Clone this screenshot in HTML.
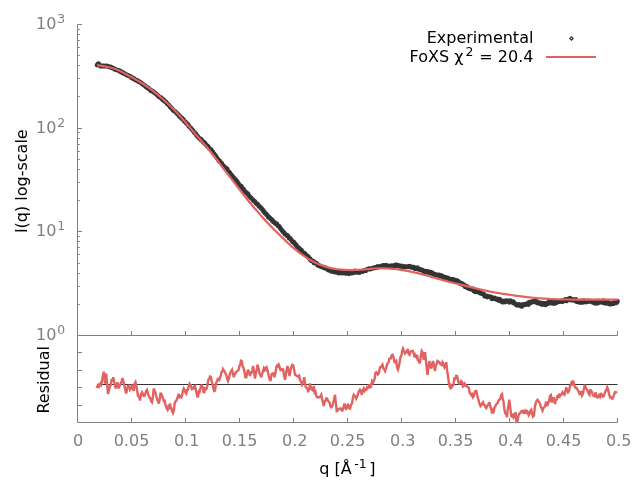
<!DOCTYPE html>
<html lang="en"><head><meta charset="utf-8"><title>FoXS fit</title>
<style>html,body{margin:0;padding:0;background:#fff}body{width:640px;height:480px;overflow:hidden}svg{display:block;will-change:transform}text{font-family:"DejaVu Sans","Liberation Sans",sans-serif}</style>
</head><body>
<svg width="640" height="480" viewBox="0 0 640 480">
<rect width="640" height="480" fill="#fff"/>
<path d="M77.5 24.5V335.5H617.5M77.5 335.5V422.5H617.5M131.5 335.5v-4.5M131.5 422.5v-4.5M185.5 335.5v-4.5M185.5 422.5v-4.5M239.5 335.5v-4.5M239.5 422.5v-4.5M293.5 335.5v-4.5M293.5 422.5v-4.5M347.5 335.5v-4.5M347.5 422.5v-4.5M401.5 335.5v-4.5M401.5 422.5v-4.5M455.5 335.5v-4.5M455.5 422.5v-4.5M509.5 335.5v-4.5M509.5 422.5v-4.5M563.5 335.5v-4.5M563.5 422.5v-4.5M617.5 335.5v-4.5M617.5 422.5v-4.5M77.5 304.5h2.25M77.5 286.5h2.25M77.5 273.5h2.25M77.5 263.5h2.25M77.5 254.5h2.25M77.5 247.5h2.25M77.5 241.5h2.25M77.5 236.5h2.25M77.5 231.5h4.5M77.5 200.5h2.25M77.5 182.5h2.25M77.5 169.5h2.25M77.5 159.5h2.25M77.5 151.5h2.25M77.5 144.5h2.25M77.5 138.5h2.25M77.5 132.5h2.25M77.5 128.5h4.5M77.5 96.5h2.25M77.5 78.5h2.25M77.5 65.5h2.25M77.5 55.5h2.25M77.5 47.5h2.25M77.5 40.5h2.25M77.5 34.5h2.25M77.5 29.5h2.25M77.5 24.5h4.5M77.5 352.5h4.5M77.5 370.5h4.5M77.5 387.5h4.5M77.5 405.5h4.5" fill="none" stroke="#808080" stroke-width="1"/>
<path d="M95.25 65.07a1.75 1.75 0 1 0 3.5 0a1.75 1.75 0 1 0 -3.5 0M95.77 64.77a1.75 1.75 0 1 0 3.5 0a1.75 1.75 0 1 0 -3.5 0M96.29 63.94a1.75 1.75 0 1 0 3.5 0a1.75 1.75 0 1 0 -3.5 0M96.81 63.49a1.75 1.75 0 1 0 3.5 0a1.75 1.75 0 1 0 -3.5 0M97.33 64.49a1.75 1.75 0 1 0 3.5 0a1.75 1.75 0 1 0 -3.5 0M97.86 65.23a1.75 1.75 0 1 0 3.5 0a1.75 1.75 0 1 0 -3.5 0M98.38 65.94a1.75 1.75 0 1 0 3.5 0a1.75 1.75 0 1 0 -3.5 0M98.9 66.3a1.75 1.75 0 1 0 3.5 0a1.75 1.75 0 1 0 -3.5 0M99.42 65.86a1.75 1.75 0 1 0 3.5 0a1.75 1.75 0 1 0 -3.5 0M99.94 65.83a1.75 1.75 0 1 0 3.5 0a1.75 1.75 0 1 0 -3.5 0M100.46 66.12a1.75 1.75 0 1 0 3.5 0a1.75 1.75 0 1 0 -3.5 0M100.98 66.1a1.75 1.75 0 1 0 3.5 0a1.75 1.75 0 1 0 -3.5 0M101.5 66.05a1.75 1.75 0 1 0 3.5 0a1.75 1.75 0 1 0 -3.5 0M102.02 65.82a1.75 1.75 0 1 0 3.5 0a1.75 1.75 0 1 0 -3.5 0M102.54 66.09a1.75 1.75 0 1 0 3.5 0a1.75 1.75 0 1 0 -3.5 0M103.07 66.33a1.75 1.75 0 1 0 3.5 0a1.75 1.75 0 1 0 -3.5 0M103.59 65.87a1.75 1.75 0 1 0 3.5 0a1.75 1.75 0 1 0 -3.5 0M104.11 66.17a1.75 1.75 0 1 0 3.5 0a1.75 1.75 0 1 0 -3.5 0M104.63 65.88a1.75 1.75 0 1 0 3.5 0a1.75 1.75 0 1 0 -3.5 0M105.15 66.12a1.75 1.75 0 1 0 3.5 0a1.75 1.75 0 1 0 -3.5 0M105.67 66.07a1.75 1.75 0 1 0 3.5 0a1.75 1.75 0 1 0 -3.5 0M106.19 66.58a1.75 1.75 0 1 0 3.5 0a1.75 1.75 0 1 0 -3.5 0M106.71 66.43a1.75 1.75 0 1 0 3.5 0a1.75 1.75 0 1 0 -3.5 0M107.23 66.96a1.75 1.75 0 1 0 3.5 0a1.75 1.75 0 1 0 -3.5 0M107.75 67.08a1.75 1.75 0 1 0 3.5 0a1.75 1.75 0 1 0 -3.5 0M108.28 67.17a1.75 1.75 0 1 0 3.5 0a1.75 1.75 0 1 0 -3.5 0M108.8 66.76a1.75 1.75 0 1 0 3.5 0a1.75 1.75 0 1 0 -3.5 0M109.32 67.48a1.75 1.75 0 1 0 3.5 0a1.75 1.75 0 1 0 -3.5 0M109.84 67.81a1.75 1.75 0 1 0 3.5 0a1.75 1.75 0 1 0 -3.5 0M110.36 68.07a1.75 1.75 0 1 0 3.5 0a1.75 1.75 0 1 0 -3.5 0M110.88 67.87a1.75 1.75 0 1 0 3.5 0a1.75 1.75 0 1 0 -3.5 0M111.4 68.36a1.75 1.75 0 1 0 3.5 0a1.75 1.75 0 1 0 -3.5 0M111.92 68.45a1.75 1.75 0 1 0 3.5 0a1.75 1.75 0 1 0 -3.5 0M112.44 68.7a1.75 1.75 0 1 0 3.5 0a1.75 1.75 0 1 0 -3.5 0M112.96 69.39a1.75 1.75 0 1 0 3.5 0a1.75 1.75 0 1 0 -3.5 0M113.49 69.11a1.75 1.75 0 1 0 3.5 0a1.75 1.75 0 1 0 -3.5 0M114.01 69.52a1.75 1.75 0 1 0 3.5 0a1.75 1.75 0 1 0 -3.5 0M114.53 69.95a1.75 1.75 0 1 0 3.5 0a1.75 1.75 0 1 0 -3.5 0M115.05 69.77a1.75 1.75 0 1 0 3.5 0a1.75 1.75 0 1 0 -3.5 0M115.57 70.09a1.75 1.75 0 1 0 3.5 0a1.75 1.75 0 1 0 -3.5 0M116.09 70.36a1.75 1.75 0 1 0 3.5 0a1.75 1.75 0 1 0 -3.5 0M116.61 70.55a1.75 1.75 0 1 0 3.5 0a1.75 1.75 0 1 0 -3.5 0M117.13 70.42a1.75 1.75 0 1 0 3.5 0a1.75 1.75 0 1 0 -3.5 0M117.65 70.98a1.75 1.75 0 1 0 3.5 0a1.75 1.75 0 1 0 -3.5 0M118.17 71.54a1.75 1.75 0 1 0 3.5 0a1.75 1.75 0 1 0 -3.5 0M118.7 71.02a1.75 1.75 0 1 0 3.5 0a1.75 1.75 0 1 0 -3.5 0M119.22 71.91a1.75 1.75 0 1 0 3.5 0a1.75 1.75 0 1 0 -3.5 0M119.74 71.98a1.75 1.75 0 1 0 3.5 0a1.75 1.75 0 1 0 -3.5 0M120.26 72.07a1.75 1.75 0 1 0 3.5 0a1.75 1.75 0 1 0 -3.5 0M120.78 73.05a1.75 1.75 0 1 0 3.5 0a1.75 1.75 0 1 0 -3.5 0M121.3 73.02a1.75 1.75 0 1 0 3.5 0a1.75 1.75 0 1 0 -3.5 0M121.82 72.8a1.75 1.75 0 1 0 3.5 0a1.75 1.75 0 1 0 -3.5 0M122.34 73.42a1.75 1.75 0 1 0 3.5 0a1.75 1.75 0 1 0 -3.5 0M122.86 73.84a1.75 1.75 0 1 0 3.5 0a1.75 1.75 0 1 0 -3.5 0M123.39 73.91a1.75 1.75 0 1 0 3.5 0a1.75 1.75 0 1 0 -3.5 0M123.91 74.41a1.75 1.75 0 1 0 3.5 0a1.75 1.75 0 1 0 -3.5 0M124.43 74.47a1.75 1.75 0 1 0 3.5 0a1.75 1.75 0 1 0 -3.5 0M124.95 74.93a1.75 1.75 0 1 0 3.5 0a1.75 1.75 0 1 0 -3.5 0M125.47 75.39a1.75 1.75 0 1 0 3.5 0a1.75 1.75 0 1 0 -3.5 0M125.99 75.08a1.75 1.75 0 1 0 3.5 0a1.75 1.75 0 1 0 -3.5 0M126.51 75.56a1.75 1.75 0 1 0 3.5 0a1.75 1.75 0 1 0 -3.5 0M127.03 75.64a1.75 1.75 0 1 0 3.5 0a1.75 1.75 0 1 0 -3.5 0M127.55 76.07a1.75 1.75 0 1 0 3.5 0a1.75 1.75 0 1 0 -3.5 0M128.07 76.01a1.75 1.75 0 1 0 3.5 0a1.75 1.75 0 1 0 -3.5 0M128.6 76.48a1.75 1.75 0 1 0 3.5 0a1.75 1.75 0 1 0 -3.5 0M129.12 76.93a1.75 1.75 0 1 0 3.5 0a1.75 1.75 0 1 0 -3.5 0M129.64 77.58a1.75 1.75 0 1 0 3.5 0a1.75 1.75 0 1 0 -3.5 0M130.16 78.02a1.75 1.75 0 1 0 3.5 0a1.75 1.75 0 1 0 -3.5 0M130.68 77.72a1.75 1.75 0 1 0 3.5 0a1.75 1.75 0 1 0 -3.5 0M131.2 78.22a1.75 1.75 0 1 0 3.5 0a1.75 1.75 0 1 0 -3.5 0M131.72 78.93a1.75 1.75 0 1 0 3.5 0a1.75 1.75 0 1 0 -3.5 0M132.24 78.52a1.75 1.75 0 1 0 3.5 0a1.75 1.75 0 1 0 -3.5 0M132.76 79.2a1.75 1.75 0 1 0 3.5 0a1.75 1.75 0 1 0 -3.5 0M133.28 79.55a1.75 1.75 0 1 0 3.5 0a1.75 1.75 0 1 0 -3.5 0M133.81 80.15a1.75 1.75 0 1 0 3.5 0a1.75 1.75 0 1 0 -3.5 0M134.33 80.23a1.75 1.75 0 1 0 3.5 0a1.75 1.75 0 1 0 -3.5 0M134.85 80.2a1.75 1.75 0 1 0 3.5 0a1.75 1.75 0 1 0 -3.5 0M135.37 80.44a1.75 1.75 0 1 0 3.5 0a1.75 1.75 0 1 0 -3.5 0M135.89 80.76a1.75 1.75 0 1 0 3.5 0a1.75 1.75 0 1 0 -3.5 0M136.41 81.54a1.75 1.75 0 1 0 3.5 0a1.75 1.75 0 1 0 -3.5 0M136.93 81.33a1.75 1.75 0 1 0 3.5 0a1.75 1.75 0 1 0 -3.5 0M137.45 81.71a1.75 1.75 0 1 0 3.5 0a1.75 1.75 0 1 0 -3.5 0M137.97 82.24a1.75 1.75 0 1 0 3.5 0a1.75 1.75 0 1 0 -3.5 0M138.49 82.46a1.75 1.75 0 1 0 3.5 0a1.75 1.75 0 1 0 -3.5 0M139.02 82.8a1.75 1.75 0 1 0 3.5 0a1.75 1.75 0 1 0 -3.5 0M139.54 82.9a1.75 1.75 0 1 0 3.5 0a1.75 1.75 0 1 0 -3.5 0M140.06 83.55a1.75 1.75 0 1 0 3.5 0a1.75 1.75 0 1 0 -3.5 0M140.58 83.78a1.75 1.75 0 1 0 3.5 0a1.75 1.75 0 1 0 -3.5 0M141.1 84.57a1.75 1.75 0 1 0 3.5 0a1.75 1.75 0 1 0 -3.5 0M141.62 84.8a1.75 1.75 0 1 0 3.5 0a1.75 1.75 0 1 0 -3.5 0M142.14 84.99a1.75 1.75 0 1 0 3.5 0a1.75 1.75 0 1 0 -3.5 0M142.66 85.58a1.75 1.75 0 1 0 3.5 0a1.75 1.75 0 1 0 -3.5 0M143.18 85.72a1.75 1.75 0 1 0 3.5 0a1.75 1.75 0 1 0 -3.5 0M143.7 86.53a1.75 1.75 0 1 0 3.5 0a1.75 1.75 0 1 0 -3.5 0M144.23 86.69a1.75 1.75 0 1 0 3.5 0a1.75 1.75 0 1 0 -3.5 0M144.75 87.29a1.75 1.75 0 1 0 3.5 0a1.75 1.75 0 1 0 -3.5 0M145.27 87.22a1.75 1.75 0 1 0 3.5 0a1.75 1.75 0 1 0 -3.5 0M145.79 88.1a1.75 1.75 0 1 0 3.5 0a1.75 1.75 0 1 0 -3.5 0M146.31 87.95a1.75 1.75 0 1 0 3.5 0a1.75 1.75 0 1 0 -3.5 0M146.83 88.25a1.75 1.75 0 1 0 3.5 0a1.75 1.75 0 1 0 -3.5 0M147.35 89.09a1.75 1.75 0 1 0 3.5 0a1.75 1.75 0 1 0 -3.5 0M147.87 89.27a1.75 1.75 0 1 0 3.5 0a1.75 1.75 0 1 0 -3.5 0M148.39 89.89a1.75 1.75 0 1 0 3.5 0a1.75 1.75 0 1 0 -3.5 0M148.92 90.78a1.75 1.75 0 1 0 3.5 0a1.75 1.75 0 1 0 -3.5 0M149.44 90.24a1.75 1.75 0 1 0 3.5 0a1.75 1.75 0 1 0 -3.5 0M149.96 90.6a1.75 1.75 0 1 0 3.5 0a1.75 1.75 0 1 0 -3.5 0M150.48 91.15a1.75 1.75 0 1 0 3.5 0a1.75 1.75 0 1 0 -3.5 0M151 91.56a1.75 1.75 0 1 0 3.5 0a1.75 1.75 0 1 0 -3.5 0M151.52 91.72a1.75 1.75 0 1 0 3.5 0a1.75 1.75 0 1 0 -3.5 0M152.04 92.09a1.75 1.75 0 1 0 3.5 0a1.75 1.75 0 1 0 -3.5 0M152.56 92.74a1.75 1.75 0 1 0 3.5 0a1.75 1.75 0 1 0 -3.5 0M153.08 93.11a1.75 1.75 0 1 0 3.5 0a1.75 1.75 0 1 0 -3.5 0M153.6 93.11a1.75 1.75 0 1 0 3.5 0a1.75 1.75 0 1 0 -3.5 0M154.13 93.84a1.75 1.75 0 1 0 3.5 0a1.75 1.75 0 1 0 -3.5 0M154.65 94.33a1.75 1.75 0 1 0 3.5 0a1.75 1.75 0 1 0 -3.5 0M155.17 94.5a1.75 1.75 0 1 0 3.5 0a1.75 1.75 0 1 0 -3.5 0M155.69 95.33a1.75 1.75 0 1 0 3.5 0a1.75 1.75 0 1 0 -3.5 0M156.21 95.48a1.75 1.75 0 1 0 3.5 0a1.75 1.75 0 1 0 -3.5 0M156.73 96.44a1.75 1.75 0 1 0 3.5 0a1.75 1.75 0 1 0 -3.5 0M157.25 96.65a1.75 1.75 0 1 0 3.5 0a1.75 1.75 0 1 0 -3.5 0M157.77 97.05a1.75 1.75 0 1 0 3.5 0a1.75 1.75 0 1 0 -3.5 0M158.29 97.28a1.75 1.75 0 1 0 3.5 0a1.75 1.75 0 1 0 -3.5 0M158.81 97.82a1.75 1.75 0 1 0 3.5 0a1.75 1.75 0 1 0 -3.5 0M159.34 97.7a1.75 1.75 0 1 0 3.5 0a1.75 1.75 0 1 0 -3.5 0M159.86 98.36a1.75 1.75 0 1 0 3.5 0a1.75 1.75 0 1 0 -3.5 0M160.38 99.18a1.75 1.75 0 1 0 3.5 0a1.75 1.75 0 1 0 -3.5 0M160.9 98.89a1.75 1.75 0 1 0 3.5 0a1.75 1.75 0 1 0 -3.5 0M161.42 100.14a1.75 1.75 0 1 0 3.5 0a1.75 1.75 0 1 0 -3.5 0M161.94 99.81a1.75 1.75 0 1 0 3.5 0a1.75 1.75 0 1 0 -3.5 0M162.46 100.93a1.75 1.75 0 1 0 3.5 0a1.75 1.75 0 1 0 -3.5 0M162.98 100.9a1.75 1.75 0 1 0 3.5 0a1.75 1.75 0 1 0 -3.5 0M163.5 101.8a1.75 1.75 0 1 0 3.5 0a1.75 1.75 0 1 0 -3.5 0M164.02 102.06a1.75 1.75 0 1 0 3.5 0a1.75 1.75 0 1 0 -3.5 0M164.55 102.07a1.75 1.75 0 1 0 3.5 0a1.75 1.75 0 1 0 -3.5 0M165.07 103.36a1.75 1.75 0 1 0 3.5 0a1.75 1.75 0 1 0 -3.5 0M165.59 103.95a1.75 1.75 0 1 0 3.5 0a1.75 1.75 0 1 0 -3.5 0M166.11 104.09a1.75 1.75 0 1 0 3.5 0a1.75 1.75 0 1 0 -3.5 0M166.63 104.62a1.75 1.75 0 1 0 3.5 0a1.75 1.75 0 1 0 -3.5 0M167.15 105.26a1.75 1.75 0 1 0 3.5 0a1.75 1.75 0 1 0 -3.5 0M167.67 105.64a1.75 1.75 0 1 0 3.5 0a1.75 1.75 0 1 0 -3.5 0M168.19 106.86a1.75 1.75 0 1 0 3.5 0a1.75 1.75 0 1 0 -3.5 0M168.71 107.01a1.75 1.75 0 1 0 3.5 0a1.75 1.75 0 1 0 -3.5 0M169.23 107.75a1.75 1.75 0 1 0 3.5 0a1.75 1.75 0 1 0 -3.5 0M169.76 108.12a1.75 1.75 0 1 0 3.5 0a1.75 1.75 0 1 0 -3.5 0M170.28 108.73a1.75 1.75 0 1 0 3.5 0a1.75 1.75 0 1 0 -3.5 0M170.8 109.06a1.75 1.75 0 1 0 3.5 0a1.75 1.75 0 1 0 -3.5 0M171.32 110.28a1.75 1.75 0 1 0 3.5 0a1.75 1.75 0 1 0 -3.5 0M171.84 110.33a1.75 1.75 0 1 0 3.5 0a1.75 1.75 0 1 0 -3.5 0M172.36 111.1a1.75 1.75 0 1 0 3.5 0a1.75 1.75 0 1 0 -3.5 0M172.88 111.27a1.75 1.75 0 1 0 3.5 0a1.75 1.75 0 1 0 -3.5 0M173.4 111.52a1.75 1.75 0 1 0 3.5 0a1.75 1.75 0 1 0 -3.5 0M173.92 112.09a1.75 1.75 0 1 0 3.5 0a1.75 1.75 0 1 0 -3.5 0M174.45 112.52a1.75 1.75 0 1 0 3.5 0a1.75 1.75 0 1 0 -3.5 0M174.97 113.21a1.75 1.75 0 1 0 3.5 0a1.75 1.75 0 1 0 -3.5 0M175.49 113.64a1.75 1.75 0 1 0 3.5 0a1.75 1.75 0 1 0 -3.5 0M176.01 114.22a1.75 1.75 0 1 0 3.5 0a1.75 1.75 0 1 0 -3.5 0M176.53 114.46a1.75 1.75 0 1 0 3.5 0a1.75 1.75 0 1 0 -3.5 0M177.05 115.18a1.75 1.75 0 1 0 3.5 0a1.75 1.75 0 1 0 -3.5 0M177.57 116.43a1.75 1.75 0 1 0 3.5 0a1.75 1.75 0 1 0 -3.5 0M178.09 116.28a1.75 1.75 0 1 0 3.5 0a1.75 1.75 0 1 0 -3.5 0M178.61 116.68a1.75 1.75 0 1 0 3.5 0a1.75 1.75 0 1 0 -3.5 0M179.13 117.59a1.75 1.75 0 1 0 3.5 0a1.75 1.75 0 1 0 -3.5 0M179.66 118.41a1.75 1.75 0 1 0 3.5 0a1.75 1.75 0 1 0 -3.5 0M180.18 118.09a1.75 1.75 0 1 0 3.5 0a1.75 1.75 0 1 0 -3.5 0M180.7 118.98a1.75 1.75 0 1 0 3.5 0a1.75 1.75 0 1 0 -3.5 0M181.22 119.39a1.75 1.75 0 1 0 3.5 0a1.75 1.75 0 1 0 -3.5 0M181.74 119.62a1.75 1.75 0 1 0 3.5 0a1.75 1.75 0 1 0 -3.5 0M182.26 120.92a1.75 1.75 0 1 0 3.5 0a1.75 1.75 0 1 0 -3.5 0M182.78 121.27a1.75 1.75 0 1 0 3.5 0a1.75 1.75 0 1 0 -3.5 0M183.3 121.86a1.75 1.75 0 1 0 3.5 0a1.75 1.75 0 1 0 -3.5 0M183.82 122.19a1.75 1.75 0 1 0 3.5 0a1.75 1.75 0 1 0 -3.5 0M184.34 123.11a1.75 1.75 0 1 0 3.5 0a1.75 1.75 0 1 0 -3.5 0M184.87 123.37a1.75 1.75 0 1 0 3.5 0a1.75 1.75 0 1 0 -3.5 0M185.39 124.05a1.75 1.75 0 1 0 3.5 0a1.75 1.75 0 1 0 -3.5 0M185.91 124.33a1.75 1.75 0 1 0 3.5 0a1.75 1.75 0 1 0 -3.5 0M186.43 124.86a1.75 1.75 0 1 0 3.5 0a1.75 1.75 0 1 0 -3.5 0M186.95 126.19a1.75 1.75 0 1 0 3.5 0a1.75 1.75 0 1 0 -3.5 0M187.47 126.23a1.75 1.75 0 1 0 3.5 0a1.75 1.75 0 1 0 -3.5 0M187.99 127.05a1.75 1.75 0 1 0 3.5 0a1.75 1.75 0 1 0 -3.5 0M188.51 127.54a1.75 1.75 0 1 0 3.5 0a1.75 1.75 0 1 0 -3.5 0M189.03 128a1.75 1.75 0 1 0 3.5 0a1.75 1.75 0 1 0 -3.5 0M189.55 128.57a1.75 1.75 0 1 0 3.5 0a1.75 1.75 0 1 0 -3.5 0M190.08 129.49a1.75 1.75 0 1 0 3.5 0a1.75 1.75 0 1 0 -3.5 0M190.6 129.8a1.75 1.75 0 1 0 3.5 0a1.75 1.75 0 1 0 -3.5 0M191.12 130.44a1.75 1.75 0 1 0 3.5 0a1.75 1.75 0 1 0 -3.5 0M191.64 131.1a1.75 1.75 0 1 0 3.5 0a1.75 1.75 0 1 0 -3.5 0M192.16 132.06a1.75 1.75 0 1 0 3.5 0a1.75 1.75 0 1 0 -3.5 0M192.68 132.56a1.75 1.75 0 1 0 3.5 0a1.75 1.75 0 1 0 -3.5 0M193.2 133.14a1.75 1.75 0 1 0 3.5 0a1.75 1.75 0 1 0 -3.5 0M193.72 133.53a1.75 1.75 0 1 0 3.5 0a1.75 1.75 0 1 0 -3.5 0M194.24 133.95a1.75 1.75 0 1 0 3.5 0a1.75 1.75 0 1 0 -3.5 0M194.77 135.31a1.75 1.75 0 1 0 3.5 0a1.75 1.75 0 1 0 -3.5 0M195.29 135.95a1.75 1.75 0 1 0 3.5 0a1.75 1.75 0 1 0 -3.5 0M195.81 136.23a1.75 1.75 0 1 0 3.5 0a1.75 1.75 0 1 0 -3.5 0M196.33 137.01a1.75 1.75 0 1 0 3.5 0a1.75 1.75 0 1 0 -3.5 0M196.85 137.61a1.75 1.75 0 1 0 3.5 0a1.75 1.75 0 1 0 -3.5 0M197.37 138.12a1.75 1.75 0 1 0 3.5 0a1.75 1.75 0 1 0 -3.5 0M197.89 138.61a1.75 1.75 0 1 0 3.5 0a1.75 1.75 0 1 0 -3.5 0M198.41 138.64a1.75 1.75 0 1 0 3.5 0a1.75 1.75 0 1 0 -3.5 0M198.93 139.66a1.75 1.75 0 1 0 3.5 0a1.75 1.75 0 1 0 -3.5 0M199.45 139.27a1.75 1.75 0 1 0 3.5 0a1.75 1.75 0 1 0 -3.5 0M199.98 140.36a1.75 1.75 0 1 0 3.5 0a1.75 1.75 0 1 0 -3.5 0M200.5 140.73a1.75 1.75 0 1 0 3.5 0a1.75 1.75 0 1 0 -3.5 0M201.02 141.36a1.75 1.75 0 1 0 3.5 0a1.75 1.75 0 1 0 -3.5 0M201.54 142.2a1.75 1.75 0 1 0 3.5 0a1.75 1.75 0 1 0 -3.5 0M202.06 142.66a1.75 1.75 0 1 0 3.5 0a1.75 1.75 0 1 0 -3.5 0M202.58 142.46a1.75 1.75 0 1 0 3.5 0a1.75 1.75 0 1 0 -3.5 0M203.1 142.9a1.75 1.75 0 1 0 3.5 0a1.75 1.75 0 1 0 -3.5 0M203.62 144.26a1.75 1.75 0 1 0 3.5 0a1.75 1.75 0 1 0 -3.5 0M204.14 144.31a1.75 1.75 0 1 0 3.5 0a1.75 1.75 0 1 0 -3.5 0M204.66 145.2a1.75 1.75 0 1 0 3.5 0a1.75 1.75 0 1 0 -3.5 0M205.19 146.04a1.75 1.75 0 1 0 3.5 0a1.75 1.75 0 1 0 -3.5 0M205.71 145.84a1.75 1.75 0 1 0 3.5 0a1.75 1.75 0 1 0 -3.5 0M206.23 146.25a1.75 1.75 0 1 0 3.5 0a1.75 1.75 0 1 0 -3.5 0M206.75 147.51a1.75 1.75 0 1 0 3.5 0a1.75 1.75 0 1 0 -3.5 0M207.27 147.97a1.75 1.75 0 1 0 3.5 0a1.75 1.75 0 1 0 -3.5 0M207.79 148.41a1.75 1.75 0 1 0 3.5 0a1.75 1.75 0 1 0 -3.5 0M208.31 149.04a1.75 1.75 0 1 0 3.5 0a1.75 1.75 0 1 0 -3.5 0M208.83 149.32a1.75 1.75 0 1 0 3.5 0a1.75 1.75 0 1 0 -3.5 0M209.35 149.71a1.75 1.75 0 1 0 3.5 0a1.75 1.75 0 1 0 -3.5 0M209.87 150.74a1.75 1.75 0 1 0 3.5 0a1.75 1.75 0 1 0 -3.5 0M210.4 151.14a1.75 1.75 0 1 0 3.5 0a1.75 1.75 0 1 0 -3.5 0M210.92 151.61a1.75 1.75 0 1 0 3.5 0a1.75 1.75 0 1 0 -3.5 0M211.44 152.96a1.75 1.75 0 1 0 3.5 0a1.75 1.75 0 1 0 -3.5 0M211.96 153.49a1.75 1.75 0 1 0 3.5 0a1.75 1.75 0 1 0 -3.5 0M212.48 154.34a1.75 1.75 0 1 0 3.5 0a1.75 1.75 0 1 0 -3.5 0M213 154.64a1.75 1.75 0 1 0 3.5 0a1.75 1.75 0 1 0 -3.5 0M213.52 155.46a1.75 1.75 0 1 0 3.5 0a1.75 1.75 0 1 0 -3.5 0M214.04 156.09a1.75 1.75 0 1 0 3.5 0a1.75 1.75 0 1 0 -3.5 0M214.56 156.85a1.75 1.75 0 1 0 3.5 0a1.75 1.75 0 1 0 -3.5 0M215.08 157.9a1.75 1.75 0 1 0 3.5 0a1.75 1.75 0 1 0 -3.5 0M215.61 158.3a1.75 1.75 0 1 0 3.5 0a1.75 1.75 0 1 0 -3.5 0M216.13 159.32a1.75 1.75 0 1 0 3.5 0a1.75 1.75 0 1 0 -3.5 0M216.65 159.96a1.75 1.75 0 1 0 3.5 0a1.75 1.75 0 1 0 -3.5 0M217.17 161.1a1.75 1.75 0 1 0 3.5 0a1.75 1.75 0 1 0 -3.5 0M217.69 160.64a1.75 1.75 0 1 0 3.5 0a1.75 1.75 0 1 0 -3.5 0M218.21 161.94a1.75 1.75 0 1 0 3.5 0a1.75 1.75 0 1 0 -3.5 0M218.73 162.23a1.75 1.75 0 1 0 3.5 0a1.75 1.75 0 1 0 -3.5 0M219.25 162.87a1.75 1.75 0 1 0 3.5 0a1.75 1.75 0 1 0 -3.5 0M219.77 163.05a1.75 1.75 0 1 0 3.5 0a1.75 1.75 0 1 0 -3.5 0M220.3 163.99a1.75 1.75 0 1 0 3.5 0a1.75 1.75 0 1 0 -3.5 0M220.82 165.02a1.75 1.75 0 1 0 3.5 0a1.75 1.75 0 1 0 -3.5 0M221.34 165.41a1.75 1.75 0 1 0 3.5 0a1.75 1.75 0 1 0 -3.5 0M221.86 166.1a1.75 1.75 0 1 0 3.5 0a1.75 1.75 0 1 0 -3.5 0M222.38 166.6a1.75 1.75 0 1 0 3.5 0a1.75 1.75 0 1 0 -3.5 0M222.9 167.64a1.75 1.75 0 1 0 3.5 0a1.75 1.75 0 1 0 -3.5 0M223.42 167.84a1.75 1.75 0 1 0 3.5 0a1.75 1.75 0 1 0 -3.5 0M223.94 167.71a1.75 1.75 0 1 0 3.5 0a1.75 1.75 0 1 0 -3.5 0M224.46 168.72a1.75 1.75 0 1 0 3.5 0a1.75 1.75 0 1 0 -3.5 0M224.98 168.87a1.75 1.75 0 1 0 3.5 0a1.75 1.75 0 1 0 -3.5 0M225.51 169.02a1.75 1.75 0 1 0 3.5 0a1.75 1.75 0 1 0 -3.5 0M226.03 170.46a1.75 1.75 0 1 0 3.5 0a1.75 1.75 0 1 0 -3.5 0M226.55 171.65a1.75 1.75 0 1 0 3.5 0a1.75 1.75 0 1 0 -3.5 0M227.07 171.87a1.75 1.75 0 1 0 3.5 0a1.75 1.75 0 1 0 -3.5 0M227.59 172.12a1.75 1.75 0 1 0 3.5 0a1.75 1.75 0 1 0 -3.5 0M228.11 172.83a1.75 1.75 0 1 0 3.5 0a1.75 1.75 0 1 0 -3.5 0M228.63 174.11a1.75 1.75 0 1 0 3.5 0a1.75 1.75 0 1 0 -3.5 0M229.15 174.42a1.75 1.75 0 1 0 3.5 0a1.75 1.75 0 1 0 -3.5 0M229.67 175a1.75 1.75 0 1 0 3.5 0a1.75 1.75 0 1 0 -3.5 0M230.19 175.57a1.75 1.75 0 1 0 3.5 0a1.75 1.75 0 1 0 -3.5 0M230.72 176.2a1.75 1.75 0 1 0 3.5 0a1.75 1.75 0 1 0 -3.5 0M231.24 177.05a1.75 1.75 0 1 0 3.5 0a1.75 1.75 0 1 0 -3.5 0M231.76 177.58a1.75 1.75 0 1 0 3.5 0a1.75 1.75 0 1 0 -3.5 0M232.28 178.1a1.75 1.75 0 1 0 3.5 0a1.75 1.75 0 1 0 -3.5 0M232.8 178.33a1.75 1.75 0 1 0 3.5 0a1.75 1.75 0 1 0 -3.5 0M233.32 179.48a1.75 1.75 0 1 0 3.5 0a1.75 1.75 0 1 0 -3.5 0M233.84 179.76a1.75 1.75 0 1 0 3.5 0a1.75 1.75 0 1 0 -3.5 0M234.36 181a1.75 1.75 0 1 0 3.5 0a1.75 1.75 0 1 0 -3.5 0M234.88 180.93a1.75 1.75 0 1 0 3.5 0a1.75 1.75 0 1 0 -3.5 0M235.4 181.97a1.75 1.75 0 1 0 3.5 0a1.75 1.75 0 1 0 -3.5 0M235.93 182.69a1.75 1.75 0 1 0 3.5 0a1.75 1.75 0 1 0 -3.5 0M236.45 182.93a1.75 1.75 0 1 0 3.5 0a1.75 1.75 0 1 0 -3.5 0M236.97 184.55a1.75 1.75 0 1 0 3.5 0a1.75 1.75 0 1 0 -3.5 0M237.49 185.1a1.75 1.75 0 1 0 3.5 0a1.75 1.75 0 1 0 -3.5 0M238.01 185.11a1.75 1.75 0 1 0 3.5 0a1.75 1.75 0 1 0 -3.5 0M238.53 186.11a1.75 1.75 0 1 0 3.5 0a1.75 1.75 0 1 0 -3.5 0M239.05 186.58a1.75 1.75 0 1 0 3.5 0a1.75 1.75 0 1 0 -3.5 0M239.57 186.21a1.75 1.75 0 1 0 3.5 0a1.75 1.75 0 1 0 -3.5 0M240.09 187.71a1.75 1.75 0 1 0 3.5 0a1.75 1.75 0 1 0 -3.5 0M240.61 188.21a1.75 1.75 0 1 0 3.5 0a1.75 1.75 0 1 0 -3.5 0M241.14 188.85a1.75 1.75 0 1 0 3.5 0a1.75 1.75 0 1 0 -3.5 0M241.66 189.07a1.75 1.75 0 1 0 3.5 0a1.75 1.75 0 1 0 -3.5 0M242.18 189.93a1.75 1.75 0 1 0 3.5 0a1.75 1.75 0 1 0 -3.5 0M242.7 190.55a1.75 1.75 0 1 0 3.5 0a1.75 1.75 0 1 0 -3.5 0M243.22 191.57a1.75 1.75 0 1 0 3.5 0a1.75 1.75 0 1 0 -3.5 0M243.74 191.85a1.75 1.75 0 1 0 3.5 0a1.75 1.75 0 1 0 -3.5 0M244.26 192.27a1.75 1.75 0 1 0 3.5 0a1.75 1.75 0 1 0 -3.5 0M244.78 193.29a1.75 1.75 0 1 0 3.5 0a1.75 1.75 0 1 0 -3.5 0M245.3 193.14a1.75 1.75 0 1 0 3.5 0a1.75 1.75 0 1 0 -3.5 0M245.83 193.72a1.75 1.75 0 1 0 3.5 0a1.75 1.75 0 1 0 -3.5 0M246.35 193.82a1.75 1.75 0 1 0 3.5 0a1.75 1.75 0 1 0 -3.5 0M246.87 195.5a1.75 1.75 0 1 0 3.5 0a1.75 1.75 0 1 0 -3.5 0M247.39 195.92a1.75 1.75 0 1 0 3.5 0a1.75 1.75 0 1 0 -3.5 0M247.91 196.53a1.75 1.75 0 1 0 3.5 0a1.75 1.75 0 1 0 -3.5 0M248.43 197.08a1.75 1.75 0 1 0 3.5 0a1.75 1.75 0 1 0 -3.5 0M248.95 197.52a1.75 1.75 0 1 0 3.5 0a1.75 1.75 0 1 0 -3.5 0M249.47 198.15a1.75 1.75 0 1 0 3.5 0a1.75 1.75 0 1 0 -3.5 0M249.99 198.56a1.75 1.75 0 1 0 3.5 0a1.75 1.75 0 1 0 -3.5 0M250.51 199.11a1.75 1.75 0 1 0 3.5 0a1.75 1.75 0 1 0 -3.5 0M251.04 199.71a1.75 1.75 0 1 0 3.5 0a1.75 1.75 0 1 0 -3.5 0M251.56 200.69a1.75 1.75 0 1 0 3.5 0a1.75 1.75 0 1 0 -3.5 0M252.08 200.88a1.75 1.75 0 1 0 3.5 0a1.75 1.75 0 1 0 -3.5 0M252.6 201.19a1.75 1.75 0 1 0 3.5 0a1.75 1.75 0 1 0 -3.5 0M253.12 201.53a1.75 1.75 0 1 0 3.5 0a1.75 1.75 0 1 0 -3.5 0M253.64 202.04a1.75 1.75 0 1 0 3.5 0a1.75 1.75 0 1 0 -3.5 0M254.16 203.32a1.75 1.75 0 1 0 3.5 0a1.75 1.75 0 1 0 -3.5 0M254.68 203.51a1.75 1.75 0 1 0 3.5 0a1.75 1.75 0 1 0 -3.5 0M255.2 203.92a1.75 1.75 0 1 0 3.5 0a1.75 1.75 0 1 0 -3.5 0M255.72 204.35a1.75 1.75 0 1 0 3.5 0a1.75 1.75 0 1 0 -3.5 0M256.25 204.66a1.75 1.75 0 1 0 3.5 0a1.75 1.75 0 1 0 -3.5 0M256.77 205.55a1.75 1.75 0 1 0 3.5 0a1.75 1.75 0 1 0 -3.5 0M257.29 206.41a1.75 1.75 0 1 0 3.5 0a1.75 1.75 0 1 0 -3.5 0M257.81 206.53a1.75 1.75 0 1 0 3.5 0a1.75 1.75 0 1 0 -3.5 0M258.33 207.12a1.75 1.75 0 1 0 3.5 0a1.75 1.75 0 1 0 -3.5 0M258.85 207.66a1.75 1.75 0 1 0 3.5 0a1.75 1.75 0 1 0 -3.5 0M259.37 208.32a1.75 1.75 0 1 0 3.5 0a1.75 1.75 0 1 0 -3.5 0M259.89 208.31a1.75 1.75 0 1 0 3.5 0a1.75 1.75 0 1 0 -3.5 0M260.41 209.34a1.75 1.75 0 1 0 3.5 0a1.75 1.75 0 1 0 -3.5 0M260.93 209.74a1.75 1.75 0 1 0 3.5 0a1.75 1.75 0 1 0 -3.5 0M261.46 210.94a1.75 1.75 0 1 0 3.5 0a1.75 1.75 0 1 0 -3.5 0M261.98 211.02a1.75 1.75 0 1 0 3.5 0a1.75 1.75 0 1 0 -3.5 0M262.5 212.1a1.75 1.75 0 1 0 3.5 0a1.75 1.75 0 1 0 -3.5 0M263.02 213.04a1.75 1.75 0 1 0 3.5 0a1.75 1.75 0 1 0 -3.5 0M263.54 213.06a1.75 1.75 0 1 0 3.5 0a1.75 1.75 0 1 0 -3.5 0M264.06 213.58a1.75 1.75 0 1 0 3.5 0a1.75 1.75 0 1 0 -3.5 0M264.58 214.45a1.75 1.75 0 1 0 3.5 0a1.75 1.75 0 1 0 -3.5 0M265.1 214.99a1.75 1.75 0 1 0 3.5 0a1.75 1.75 0 1 0 -3.5 0M265.62 215.25a1.75 1.75 0 1 0 3.5 0a1.75 1.75 0 1 0 -3.5 0M266.14 216.32a1.75 1.75 0 1 0 3.5 0a1.75 1.75 0 1 0 -3.5 0M266.67 217.42a1.75 1.75 0 1 0 3.5 0a1.75 1.75 0 1 0 -3.5 0M267.19 217.22a1.75 1.75 0 1 0 3.5 0a1.75 1.75 0 1 0 -3.5 0M267.71 217.77a1.75 1.75 0 1 0 3.5 0a1.75 1.75 0 1 0 -3.5 0M268.23 218a1.75 1.75 0 1 0 3.5 0a1.75 1.75 0 1 0 -3.5 0M268.75 218.95a1.75 1.75 0 1 0 3.5 0a1.75 1.75 0 1 0 -3.5 0M269.27 218.9a1.75 1.75 0 1 0 3.5 0a1.75 1.75 0 1 0 -3.5 0M269.79 219.42a1.75 1.75 0 1 0 3.5 0a1.75 1.75 0 1 0 -3.5 0M270.31 220.69a1.75 1.75 0 1 0 3.5 0a1.75 1.75 0 1 0 -3.5 0M270.83 220.42a1.75 1.75 0 1 0 3.5 0a1.75 1.75 0 1 0 -3.5 0M271.36 221.55a1.75 1.75 0 1 0 3.5 0a1.75 1.75 0 1 0 -3.5 0M271.88 222.15a1.75 1.75 0 1 0 3.5 0a1.75 1.75 0 1 0 -3.5 0M272.4 222.17a1.75 1.75 0 1 0 3.5 0a1.75 1.75 0 1 0 -3.5 0M272.92 222.7a1.75 1.75 0 1 0 3.5 0a1.75 1.75 0 1 0 -3.5 0M273.44 223.6a1.75 1.75 0 1 0 3.5 0a1.75 1.75 0 1 0 -3.5 0M273.96 223.3a1.75 1.75 0 1 0 3.5 0a1.75 1.75 0 1 0 -3.5 0M274.48 223.59a1.75 1.75 0 1 0 3.5 0a1.75 1.75 0 1 0 -3.5 0M275 223.78a1.75 1.75 0 1 0 3.5 0a1.75 1.75 0 1 0 -3.5 0M275.52 224.73a1.75 1.75 0 1 0 3.5 0a1.75 1.75 0 1 0 -3.5 0M276.04 225.73a1.75 1.75 0 1 0 3.5 0a1.75 1.75 0 1 0 -3.5 0M276.57 226.11a1.75 1.75 0 1 0 3.5 0a1.75 1.75 0 1 0 -3.5 0M277.09 226.07a1.75 1.75 0 1 0 3.5 0a1.75 1.75 0 1 0 -3.5 0M277.61 226.74a1.75 1.75 0 1 0 3.5 0a1.75 1.75 0 1 0 -3.5 0M278.13 227.53a1.75 1.75 0 1 0 3.5 0a1.75 1.75 0 1 0 -3.5 0M278.65 228.49a1.75 1.75 0 1 0 3.5 0a1.75 1.75 0 1 0 -3.5 0M279.17 229.01a1.75 1.75 0 1 0 3.5 0a1.75 1.75 0 1 0 -3.5 0M279.69 229.83a1.75 1.75 0 1 0 3.5 0a1.75 1.75 0 1 0 -3.5 0M280.21 230.52a1.75 1.75 0 1 0 3.5 0a1.75 1.75 0 1 0 -3.5 0M280.73 230.94a1.75 1.75 0 1 0 3.5 0a1.75 1.75 0 1 0 -3.5 0M281.25 231.62a1.75 1.75 0 1 0 3.5 0a1.75 1.75 0 1 0 -3.5 0M281.78 232.28a1.75 1.75 0 1 0 3.5 0a1.75 1.75 0 1 0 -3.5 0M282.3 232.72a1.75 1.75 0 1 0 3.5 0a1.75 1.75 0 1 0 -3.5 0M282.82 233.44a1.75 1.75 0 1 0 3.5 0a1.75 1.75 0 1 0 -3.5 0M283.34 234.42a1.75 1.75 0 1 0 3.5 0a1.75 1.75 0 1 0 -3.5 0M283.86 234.48a1.75 1.75 0 1 0 3.5 0a1.75 1.75 0 1 0 -3.5 0M284.38 234.81a1.75 1.75 0 1 0 3.5 0a1.75 1.75 0 1 0 -3.5 0M284.9 234.73a1.75 1.75 0 1 0 3.5 0a1.75 1.75 0 1 0 -3.5 0M285.42 235.97a1.75 1.75 0 1 0 3.5 0a1.75 1.75 0 1 0 -3.5 0M285.94 235.7a1.75 1.75 0 1 0 3.5 0a1.75 1.75 0 1 0 -3.5 0M286.46 236.44a1.75 1.75 0 1 0 3.5 0a1.75 1.75 0 1 0 -3.5 0M286.99 237.76a1.75 1.75 0 1 0 3.5 0a1.75 1.75 0 1 0 -3.5 0M287.51 238.25a1.75 1.75 0 1 0 3.5 0a1.75 1.75 0 1 0 -3.5 0M288.03 238.48a1.75 1.75 0 1 0 3.5 0a1.75 1.75 0 1 0 -3.5 0M288.55 238.45a1.75 1.75 0 1 0 3.5 0a1.75 1.75 0 1 0 -3.5 0M289.07 239.42a1.75 1.75 0 1 0 3.5 0a1.75 1.75 0 1 0 -3.5 0M289.59 239.81a1.75 1.75 0 1 0 3.5 0a1.75 1.75 0 1 0 -3.5 0M290.11 240.77a1.75 1.75 0 1 0 3.5 0a1.75 1.75 0 1 0 -3.5 0M290.63 241.86a1.75 1.75 0 1 0 3.5 0a1.75 1.75 0 1 0 -3.5 0M291.15 241.7a1.75 1.75 0 1 0 3.5 0a1.75 1.75 0 1 0 -3.5 0M291.67 241.92a1.75 1.75 0 1 0 3.5 0a1.75 1.75 0 1 0 -3.5 0M292.2 242.38a1.75 1.75 0 1 0 3.5 0a1.75 1.75 0 1 0 -3.5 0M292.72 243.37a1.75 1.75 0 1 0 3.5 0a1.75 1.75 0 1 0 -3.5 0M293.24 243.94a1.75 1.75 0 1 0 3.5 0a1.75 1.75 0 1 0 -3.5 0M293.76 244.21a1.75 1.75 0 1 0 3.5 0a1.75 1.75 0 1 0 -3.5 0M294.28 245.24a1.75 1.75 0 1 0 3.5 0a1.75 1.75 0 1 0 -3.5 0M294.8 245.36a1.75 1.75 0 1 0 3.5 0a1.75 1.75 0 1 0 -3.5 0M295.32 246.69a1.75 1.75 0 1 0 3.5 0a1.75 1.75 0 1 0 -3.5 0M295.84 247.19a1.75 1.75 0 1 0 3.5 0a1.75 1.75 0 1 0 -3.5 0M296.36 247.7a1.75 1.75 0 1 0 3.5 0a1.75 1.75 0 1 0 -3.5 0M296.89 247.66a1.75 1.75 0 1 0 3.5 0a1.75 1.75 0 1 0 -3.5 0M297.41 248.52a1.75 1.75 0 1 0 3.5 0a1.75 1.75 0 1 0 -3.5 0M297.93 248.83a1.75 1.75 0 1 0 3.5 0a1.75 1.75 0 1 0 -3.5 0M298.45 249.3a1.75 1.75 0 1 0 3.5 0a1.75 1.75 0 1 0 -3.5 0M298.97 249.9a1.75 1.75 0 1 0 3.5 0a1.75 1.75 0 1 0 -3.5 0M299.49 250.17a1.75 1.75 0 1 0 3.5 0a1.75 1.75 0 1 0 -3.5 0M300.01 250.71a1.75 1.75 0 1 0 3.5 0a1.75 1.75 0 1 0 -3.5 0M300.53 252.07a1.75 1.75 0 1 0 3.5 0a1.75 1.75 0 1 0 -3.5 0M301.05 252.27a1.75 1.75 0 1 0 3.5 0a1.75 1.75 0 1 0 -3.5 0M301.57 252.9a1.75 1.75 0 1 0 3.5 0a1.75 1.75 0 1 0 -3.5 0M302.1 253.62a1.75 1.75 0 1 0 3.5 0a1.75 1.75 0 1 0 -3.5 0M302.62 253.05a1.75 1.75 0 1 0 3.5 0a1.75 1.75 0 1 0 -3.5 0M303.14 253.76a1.75 1.75 0 1 0 3.5 0a1.75 1.75 0 1 0 -3.5 0M303.66 254.48a1.75 1.75 0 1 0 3.5 0a1.75 1.75 0 1 0 -3.5 0M304.18 254.95a1.75 1.75 0 1 0 3.5 0a1.75 1.75 0 1 0 -3.5 0M304.7 255.12a1.75 1.75 0 1 0 3.5 0a1.75 1.75 0 1 0 -3.5 0M305.22 256.11a1.75 1.75 0 1 0 3.5 0a1.75 1.75 0 1 0 -3.5 0M305.74 256.37a1.75 1.75 0 1 0 3.5 0a1.75 1.75 0 1 0 -3.5 0M306.26 256.46a1.75 1.75 0 1 0 3.5 0a1.75 1.75 0 1 0 -3.5 0M306.78 257.17a1.75 1.75 0 1 0 3.5 0a1.75 1.75 0 1 0 -3.5 0M307.31 258.39a1.75 1.75 0 1 0 3.5 0a1.75 1.75 0 1 0 -3.5 0M307.83 258.85a1.75 1.75 0 1 0 3.5 0a1.75 1.75 0 1 0 -3.5 0M308.35 258.54a1.75 1.75 0 1 0 3.5 0a1.75 1.75 0 1 0 -3.5 0M308.87 260.18a1.75 1.75 0 1 0 3.5 0a1.75 1.75 0 1 0 -3.5 0M309.39 260.34a1.75 1.75 0 1 0 3.5 0a1.75 1.75 0 1 0 -3.5 0M309.91 260.99a1.75 1.75 0 1 0 3.5 0a1.75 1.75 0 1 0 -3.5 0M310.43 260.73a1.75 1.75 0 1 0 3.5 0a1.75 1.75 0 1 0 -3.5 0M310.95 261.1a1.75 1.75 0 1 0 3.5 0a1.75 1.75 0 1 0 -3.5 0M311.47 261.15a1.75 1.75 0 1 0 3.5 0a1.75 1.75 0 1 0 -3.5 0M311.99 262.8a1.75 1.75 0 1 0 3.5 0a1.75 1.75 0 1 0 -3.5 0M312.52 262.18a1.75 1.75 0 1 0 3.5 0a1.75 1.75 0 1 0 -3.5 0M313.04 263.17a1.75 1.75 0 1 0 3.5 0a1.75 1.75 0 1 0 -3.5 0M313.56 262.74a1.75 1.75 0 1 0 3.5 0a1.75 1.75 0 1 0 -3.5 0M314.08 263.41a1.75 1.75 0 1 0 3.5 0a1.75 1.75 0 1 0 -3.5 0M314.6 263.14a1.75 1.75 0 1 0 3.5 0a1.75 1.75 0 1 0 -3.5 0M315.12 264a1.75 1.75 0 1 0 3.5 0a1.75 1.75 0 1 0 -3.5 0M315.64 264.89a1.75 1.75 0 1 0 3.5 0a1.75 1.75 0 1 0 -3.5 0M316.16 264.49a1.75 1.75 0 1 0 3.5 0a1.75 1.75 0 1 0 -3.5 0M316.68 265.71a1.75 1.75 0 1 0 3.5 0a1.75 1.75 0 1 0 -3.5 0M317.2 265.82a1.75 1.75 0 1 0 3.5 0a1.75 1.75 0 1 0 -3.5 0M317.73 265.67a1.75 1.75 0 1 0 3.5 0a1.75 1.75 0 1 0 -3.5 0M318.25 266.18a1.75 1.75 0 1 0 3.5 0a1.75 1.75 0 1 0 -3.5 0M318.77 266.47a1.75 1.75 0 1 0 3.5 0a1.75 1.75 0 1 0 -3.5 0M319.29 266.86a1.75 1.75 0 1 0 3.5 0a1.75 1.75 0 1 0 -3.5 0M319.81 266.88a1.75 1.75 0 1 0 3.5 0a1.75 1.75 0 1 0 -3.5 0M320.33 266.95a1.75 1.75 0 1 0 3.5 0a1.75 1.75 0 1 0 -3.5 0M320.85 267.29a1.75 1.75 0 1 0 3.5 0a1.75 1.75 0 1 0 -3.5 0M321.37 267.15a1.75 1.75 0 1 0 3.5 0a1.75 1.75 0 1 0 -3.5 0M321.89 267.18a1.75 1.75 0 1 0 3.5 0a1.75 1.75 0 1 0 -3.5 0M322.42 267.76a1.75 1.75 0 1 0 3.5 0a1.75 1.75 0 1 0 -3.5 0M322.94 268.23a1.75 1.75 0 1 0 3.5 0a1.75 1.75 0 1 0 -3.5 0M323.46 267.52a1.75 1.75 0 1 0 3.5 0a1.75 1.75 0 1 0 -3.5 0M323.98 268.27a1.75 1.75 0 1 0 3.5 0a1.75 1.75 0 1 0 -3.5 0M324.5 268.25a1.75 1.75 0 1 0 3.5 0a1.75 1.75 0 1 0 -3.5 0M325.02 268.38a1.75 1.75 0 1 0 3.5 0a1.75 1.75 0 1 0 -3.5 0M325.54 269.32a1.75 1.75 0 1 0 3.5 0a1.75 1.75 0 1 0 -3.5 0M326.06 269.11a1.75 1.75 0 1 0 3.5 0a1.75 1.75 0 1 0 -3.5 0M326.58 270.14a1.75 1.75 0 1 0 3.5 0a1.75 1.75 0 1 0 -3.5 0M327.1 269.61a1.75 1.75 0 1 0 3.5 0a1.75 1.75 0 1 0 -3.5 0M327.63 270.34a1.75 1.75 0 1 0 3.5 0a1.75 1.75 0 1 0 -3.5 0M328.15 270.39a1.75 1.75 0 1 0 3.5 0a1.75 1.75 0 1 0 -3.5 0M328.67 270.46a1.75 1.75 0 1 0 3.5 0a1.75 1.75 0 1 0 -3.5 0M329.19 271.17a1.75 1.75 0 1 0 3.5 0a1.75 1.75 0 1 0 -3.5 0M329.71 271.1a1.75 1.75 0 1 0 3.5 0a1.75 1.75 0 1 0 -3.5 0M330.23 271.54a1.75 1.75 0 1 0 3.5 0a1.75 1.75 0 1 0 -3.5 0M330.75 271.44a1.75 1.75 0 1 0 3.5 0a1.75 1.75 0 1 0 -3.5 0M331.27 271.18a1.75 1.75 0 1 0 3.5 0a1.75 1.75 0 1 0 -3.5 0M331.79 271.65a1.75 1.75 0 1 0 3.5 0a1.75 1.75 0 1 0 -3.5 0M332.31 271.81a1.75 1.75 0 1 0 3.5 0a1.75 1.75 0 1 0 -3.5 0M332.84 272.24a1.75 1.75 0 1 0 3.5 0a1.75 1.75 0 1 0 -3.5 0M333.36 271.65a1.75 1.75 0 1 0 3.5 0a1.75 1.75 0 1 0 -3.5 0M333.88 272.06a1.75 1.75 0 1 0 3.5 0a1.75 1.75 0 1 0 -3.5 0M334.4 271.53a1.75 1.75 0 1 0 3.5 0a1.75 1.75 0 1 0 -3.5 0M334.92 272.49a1.75 1.75 0 1 0 3.5 0a1.75 1.75 0 1 0 -3.5 0M335.44 271.96a1.75 1.75 0 1 0 3.5 0a1.75 1.75 0 1 0 -3.5 0M335.96 271.81a1.75 1.75 0 1 0 3.5 0a1.75 1.75 0 1 0 -3.5 0M336.48 272.57a1.75 1.75 0 1 0 3.5 0a1.75 1.75 0 1 0 -3.5 0M337 273.13a1.75 1.75 0 1 0 3.5 0a1.75 1.75 0 1 0 -3.5 0M337.52 272.27a1.75 1.75 0 1 0 3.5 0a1.75 1.75 0 1 0 -3.5 0M338.05 272.52a1.75 1.75 0 1 0 3.5 0a1.75 1.75 0 1 0 -3.5 0M338.57 272.71a1.75 1.75 0 1 0 3.5 0a1.75 1.75 0 1 0 -3.5 0M339.09 272.59a1.75 1.75 0 1 0 3.5 0a1.75 1.75 0 1 0 -3.5 0M339.61 273.14a1.75 1.75 0 1 0 3.5 0a1.75 1.75 0 1 0 -3.5 0M340.13 272.67a1.75 1.75 0 1 0 3.5 0a1.75 1.75 0 1 0 -3.5 0M340.65 272.67a1.75 1.75 0 1 0 3.5 0a1.75 1.75 0 1 0 -3.5 0M341.17 273.11a1.75 1.75 0 1 0 3.5 0a1.75 1.75 0 1 0 -3.5 0M341.69 272.59a1.75 1.75 0 1 0 3.5 0a1.75 1.75 0 1 0 -3.5 0M342.21 273.01a1.75 1.75 0 1 0 3.5 0a1.75 1.75 0 1 0 -3.5 0M342.73 272.48a1.75 1.75 0 1 0 3.5 0a1.75 1.75 0 1 0 -3.5 0M343.26 272.39a1.75 1.75 0 1 0 3.5 0a1.75 1.75 0 1 0 -3.5 0M343.78 272.17a1.75 1.75 0 1 0 3.5 0a1.75 1.75 0 1 0 -3.5 0M344.3 273.57a1.75 1.75 0 1 0 3.5 0a1.75 1.75 0 1 0 -3.5 0M344.82 272.79a1.75 1.75 0 1 0 3.5 0a1.75 1.75 0 1 0 -3.5 0M345.34 273.03a1.75 1.75 0 1 0 3.5 0a1.75 1.75 0 1 0 -3.5 0M345.86 272.98a1.75 1.75 0 1 0 3.5 0a1.75 1.75 0 1 0 -3.5 0M346.38 273.1a1.75 1.75 0 1 0 3.5 0a1.75 1.75 0 1 0 -3.5 0M346.9 273.1a1.75 1.75 0 1 0 3.5 0a1.75 1.75 0 1 0 -3.5 0M347.42 273.85a1.75 1.75 0 1 0 3.5 0a1.75 1.75 0 1 0 -3.5 0M347.95 272.77a1.75 1.75 0 1 0 3.5 0a1.75 1.75 0 1 0 -3.5 0M348.47 272.58a1.75 1.75 0 1 0 3.5 0a1.75 1.75 0 1 0 -3.5 0M348.99 272.74a1.75 1.75 0 1 0 3.5 0a1.75 1.75 0 1 0 -3.5 0M349.51 272.54a1.75 1.75 0 1 0 3.5 0a1.75 1.75 0 1 0 -3.5 0M350.03 273.19a1.75 1.75 0 1 0 3.5 0a1.75 1.75 0 1 0 -3.5 0M350.55 273.05a1.75 1.75 0 1 0 3.5 0a1.75 1.75 0 1 0 -3.5 0M351.07 272.2a1.75 1.75 0 1 0 3.5 0a1.75 1.75 0 1 0 -3.5 0M351.59 271.85a1.75 1.75 0 1 0 3.5 0a1.75 1.75 0 1 0 -3.5 0M352.11 272.07a1.75 1.75 0 1 0 3.5 0a1.75 1.75 0 1 0 -3.5 0M352.63 272.6a1.75 1.75 0 1 0 3.5 0a1.75 1.75 0 1 0 -3.5 0M353.16 270.92a1.75 1.75 0 1 0 3.5 0a1.75 1.75 0 1 0 -3.5 0M353.68 272.13a1.75 1.75 0 1 0 3.5 0a1.75 1.75 0 1 0 -3.5 0M354.2 271.52a1.75 1.75 0 1 0 3.5 0a1.75 1.75 0 1 0 -3.5 0M354.72 272.35a1.75 1.75 0 1 0 3.5 0a1.75 1.75 0 1 0 -3.5 0M355.24 271.6a1.75 1.75 0 1 0 3.5 0a1.75 1.75 0 1 0 -3.5 0M355.76 271.96a1.75 1.75 0 1 0 3.5 0a1.75 1.75 0 1 0 -3.5 0M356.28 271.55a1.75 1.75 0 1 0 3.5 0a1.75 1.75 0 1 0 -3.5 0M356.8 271.8a1.75 1.75 0 1 0 3.5 0a1.75 1.75 0 1 0 -3.5 0M357.32 272.71a1.75 1.75 0 1 0 3.5 0a1.75 1.75 0 1 0 -3.5 0M357.84 272.49a1.75 1.75 0 1 0 3.5 0a1.75 1.75 0 1 0 -3.5 0M358.37 271.99a1.75 1.75 0 1 0 3.5 0a1.75 1.75 0 1 0 -3.5 0M358.89 271.74a1.75 1.75 0 1 0 3.5 0a1.75 1.75 0 1 0 -3.5 0M359.41 271.25a1.75 1.75 0 1 0 3.5 0a1.75 1.75 0 1 0 -3.5 0M359.93 271.69a1.75 1.75 0 1 0 3.5 0a1.75 1.75 0 1 0 -3.5 0M360.45 271.67a1.75 1.75 0 1 0 3.5 0a1.75 1.75 0 1 0 -3.5 0M360.97 271.47a1.75 1.75 0 1 0 3.5 0a1.75 1.75 0 1 0 -3.5 0M361.49 271.25a1.75 1.75 0 1 0 3.5 0a1.75 1.75 0 1 0 -3.5 0M362.01 270.63a1.75 1.75 0 1 0 3.5 0a1.75 1.75 0 1 0 -3.5 0M362.53 270.77a1.75 1.75 0 1 0 3.5 0a1.75 1.75 0 1 0 -3.5 0M363.05 270.52a1.75 1.75 0 1 0 3.5 0a1.75 1.75 0 1 0 -3.5 0M363.58 270.76a1.75 1.75 0 1 0 3.5 0a1.75 1.75 0 1 0 -3.5 0M364.1 270.72a1.75 1.75 0 1 0 3.5 0a1.75 1.75 0 1 0 -3.5 0M364.62 269.73a1.75 1.75 0 1 0 3.5 0a1.75 1.75 0 1 0 -3.5 0M365.14 269.29a1.75 1.75 0 1 0 3.5 0a1.75 1.75 0 1 0 -3.5 0M365.66 269.41a1.75 1.75 0 1 0 3.5 0a1.75 1.75 0 1 0 -3.5 0M366.18 269.08a1.75 1.75 0 1 0 3.5 0a1.75 1.75 0 1 0 -3.5 0M366.7 268.94a1.75 1.75 0 1 0 3.5 0a1.75 1.75 0 1 0 -3.5 0M367.22 269.14a1.75 1.75 0 1 0 3.5 0a1.75 1.75 0 1 0 -3.5 0M367.74 268.69a1.75 1.75 0 1 0 3.5 0a1.75 1.75 0 1 0 -3.5 0M368.27 269.25a1.75 1.75 0 1 0 3.5 0a1.75 1.75 0 1 0 -3.5 0M368.79 268.88a1.75 1.75 0 1 0 3.5 0a1.75 1.75 0 1 0 -3.5 0M369.31 268.9a1.75 1.75 0 1 0 3.5 0a1.75 1.75 0 1 0 -3.5 0M369.83 268.6a1.75 1.75 0 1 0 3.5 0a1.75 1.75 0 1 0 -3.5 0M370.35 268.25a1.75 1.75 0 1 0 3.5 0a1.75 1.75 0 1 0 -3.5 0M370.87 268.02a1.75 1.75 0 1 0 3.5 0a1.75 1.75 0 1 0 -3.5 0M371.39 268.16a1.75 1.75 0 1 0 3.5 0a1.75 1.75 0 1 0 -3.5 0M371.91 267.9a1.75 1.75 0 1 0 3.5 0a1.75 1.75 0 1 0 -3.5 0M372.43 268.08a1.75 1.75 0 1 0 3.5 0a1.75 1.75 0 1 0 -3.5 0M372.95 267.87a1.75 1.75 0 1 0 3.5 0a1.75 1.75 0 1 0 -3.5 0M373.48 267.23a1.75 1.75 0 1 0 3.5 0a1.75 1.75 0 1 0 -3.5 0M374 267.66a1.75 1.75 0 1 0 3.5 0a1.75 1.75 0 1 0 -3.5 0M374.52 267a1.75 1.75 0 1 0 3.5 0a1.75 1.75 0 1 0 -3.5 0M375.04 267.16a1.75 1.75 0 1 0 3.5 0a1.75 1.75 0 1 0 -3.5 0M375.56 267.17a1.75 1.75 0 1 0 3.5 0a1.75 1.75 0 1 0 -3.5 0M376.08 266.36a1.75 1.75 0 1 0 3.5 0a1.75 1.75 0 1 0 -3.5 0M376.6 267.08a1.75 1.75 0 1 0 3.5 0a1.75 1.75 0 1 0 -3.5 0M377.12 266.99a1.75 1.75 0 1 0 3.5 0a1.75 1.75 0 1 0 -3.5 0M377.64 266.76a1.75 1.75 0 1 0 3.5 0a1.75 1.75 0 1 0 -3.5 0M378.16 266.54a1.75 1.75 0 1 0 3.5 0a1.75 1.75 0 1 0 -3.5 0M378.69 266.45a1.75 1.75 0 1 0 3.5 0a1.75 1.75 0 1 0 -3.5 0M379.21 266.09a1.75 1.75 0 1 0 3.5 0a1.75 1.75 0 1 0 -3.5 0M379.73 266.24a1.75 1.75 0 1 0 3.5 0a1.75 1.75 0 1 0 -3.5 0M380.25 266a1.75 1.75 0 1 0 3.5 0a1.75 1.75 0 1 0 -3.5 0M380.77 266.11a1.75 1.75 0 1 0 3.5 0a1.75 1.75 0 1 0 -3.5 0M381.29 265.47a1.75 1.75 0 1 0 3.5 0a1.75 1.75 0 1 0 -3.5 0M381.81 265.92a1.75 1.75 0 1 0 3.5 0a1.75 1.75 0 1 0 -3.5 0M382.33 265.79a1.75 1.75 0 1 0 3.5 0a1.75 1.75 0 1 0 -3.5 0M382.85 265.61a1.75 1.75 0 1 0 3.5 0a1.75 1.75 0 1 0 -3.5 0M383.37 265.47a1.75 1.75 0 1 0 3.5 0a1.75 1.75 0 1 0 -3.5 0M383.9 265.87a1.75 1.75 0 1 0 3.5 0a1.75 1.75 0 1 0 -3.5 0M384.42 265.05a1.75 1.75 0 1 0 3.5 0a1.75 1.75 0 1 0 -3.5 0M384.94 265.96a1.75 1.75 0 1 0 3.5 0a1.75 1.75 0 1 0 -3.5 0M385.46 265.96a1.75 1.75 0 1 0 3.5 0a1.75 1.75 0 1 0 -3.5 0M385.98 266.07a1.75 1.75 0 1 0 3.5 0a1.75 1.75 0 1 0 -3.5 0M386.5 266.2a1.75 1.75 0 1 0 3.5 0a1.75 1.75 0 1 0 -3.5 0M387.02 265.86a1.75 1.75 0 1 0 3.5 0a1.75 1.75 0 1 0 -3.5 0M387.54 266.07a1.75 1.75 0 1 0 3.5 0a1.75 1.75 0 1 0 -3.5 0M388.06 266.46a1.75 1.75 0 1 0 3.5 0a1.75 1.75 0 1 0 -3.5 0M388.58 266.38a1.75 1.75 0 1 0 3.5 0a1.75 1.75 0 1 0 -3.5 0M389.11 266.29a1.75 1.75 0 1 0 3.5 0a1.75 1.75 0 1 0 -3.5 0M389.63 265.58a1.75 1.75 0 1 0 3.5 0a1.75 1.75 0 1 0 -3.5 0M390.15 266.36a1.75 1.75 0 1 0 3.5 0a1.75 1.75 0 1 0 -3.5 0M390.67 266.56a1.75 1.75 0 1 0 3.5 0a1.75 1.75 0 1 0 -3.5 0M391.19 266.45a1.75 1.75 0 1 0 3.5 0a1.75 1.75 0 1 0 -3.5 0M391.71 266.08a1.75 1.75 0 1 0 3.5 0a1.75 1.75 0 1 0 -3.5 0M392.23 265.31a1.75 1.75 0 1 0 3.5 0a1.75 1.75 0 1 0 -3.5 0M392.75 266.24a1.75 1.75 0 1 0 3.5 0a1.75 1.75 0 1 0 -3.5 0M393.27 265.74a1.75 1.75 0 1 0 3.5 0a1.75 1.75 0 1 0 -3.5 0M393.8 264.73a1.75 1.75 0 1 0 3.5 0a1.75 1.75 0 1 0 -3.5 0M394.32 265.82a1.75 1.75 0 1 0 3.5 0a1.75 1.75 0 1 0 -3.5 0M394.84 265.02a1.75 1.75 0 1 0 3.5 0a1.75 1.75 0 1 0 -3.5 0M395.36 265.05a1.75 1.75 0 1 0 3.5 0a1.75 1.75 0 1 0 -3.5 0M395.88 265.27a1.75 1.75 0 1 0 3.5 0a1.75 1.75 0 1 0 -3.5 0M396.4 266.03a1.75 1.75 0 1 0 3.5 0a1.75 1.75 0 1 0 -3.5 0M396.92 265.4a1.75 1.75 0 1 0 3.5 0a1.75 1.75 0 1 0 -3.5 0M397.44 265.72a1.75 1.75 0 1 0 3.5 0a1.75 1.75 0 1 0 -3.5 0M397.96 266.43a1.75 1.75 0 1 0 3.5 0a1.75 1.75 0 1 0 -3.5 0M398.48 266.52a1.75 1.75 0 1 0 3.5 0a1.75 1.75 0 1 0 -3.5 0M399.01 266.03a1.75 1.75 0 1 0 3.5 0a1.75 1.75 0 1 0 -3.5 0M399.53 266.17a1.75 1.75 0 1 0 3.5 0a1.75 1.75 0 1 0 -3.5 0M400.05 265.94a1.75 1.75 0 1 0 3.5 0a1.75 1.75 0 1 0 -3.5 0M400.57 266.33a1.75 1.75 0 1 0 3.5 0a1.75 1.75 0 1 0 -3.5 0M401.09 266.91a1.75 1.75 0 1 0 3.5 0a1.75 1.75 0 1 0 -3.5 0M401.61 266.97a1.75 1.75 0 1 0 3.5 0a1.75 1.75 0 1 0 -3.5 0M402.13 266.88a1.75 1.75 0 1 0 3.5 0a1.75 1.75 0 1 0 -3.5 0M402.65 267.22a1.75 1.75 0 1 0 3.5 0a1.75 1.75 0 1 0 -3.5 0M403.17 266.45a1.75 1.75 0 1 0 3.5 0a1.75 1.75 0 1 0 -3.5 0M403.69 266.68a1.75 1.75 0 1 0 3.5 0a1.75 1.75 0 1 0 -3.5 0M404.22 266.92a1.75 1.75 0 1 0 3.5 0a1.75 1.75 0 1 0 -3.5 0M404.74 266.8a1.75 1.75 0 1 0 3.5 0a1.75 1.75 0 1 0 -3.5 0M405.26 266.95a1.75 1.75 0 1 0 3.5 0a1.75 1.75 0 1 0 -3.5 0M405.78 266.66a1.75 1.75 0 1 0 3.5 0a1.75 1.75 0 1 0 -3.5 0M406.3 266.39a1.75 1.75 0 1 0 3.5 0a1.75 1.75 0 1 0 -3.5 0M406.82 266.72a1.75 1.75 0 1 0 3.5 0a1.75 1.75 0 1 0 -3.5 0M407.34 266.24a1.75 1.75 0 1 0 3.5 0a1.75 1.75 0 1 0 -3.5 0M407.86 266.1a1.75 1.75 0 1 0 3.5 0a1.75 1.75 0 1 0 -3.5 0M408.38 267.16a1.75 1.75 0 1 0 3.5 0a1.75 1.75 0 1 0 -3.5 0M408.9 267.06a1.75 1.75 0 1 0 3.5 0a1.75 1.75 0 1 0 -3.5 0M409.43 267.39a1.75 1.75 0 1 0 3.5 0a1.75 1.75 0 1 0 -3.5 0M409.95 266.73a1.75 1.75 0 1 0 3.5 0a1.75 1.75 0 1 0 -3.5 0M410.47 267.48a1.75 1.75 0 1 0 3.5 0a1.75 1.75 0 1 0 -3.5 0M410.99 267.56a1.75 1.75 0 1 0 3.5 0a1.75 1.75 0 1 0 -3.5 0M411.51 267.62a1.75 1.75 0 1 0 3.5 0a1.75 1.75 0 1 0 -3.5 0M412.03 267.2a1.75 1.75 0 1 0 3.5 0a1.75 1.75 0 1 0 -3.5 0M412.55 268.15a1.75 1.75 0 1 0 3.5 0a1.75 1.75 0 1 0 -3.5 0M413.07 268.79a1.75 1.75 0 1 0 3.5 0a1.75 1.75 0 1 0 -3.5 0M413.59 268.67a1.75 1.75 0 1 0 3.5 0a1.75 1.75 0 1 0 -3.5 0M414.11 268.31a1.75 1.75 0 1 0 3.5 0a1.75 1.75 0 1 0 -3.5 0M414.64 268.6a1.75 1.75 0 1 0 3.5 0a1.75 1.75 0 1 0 -3.5 0M415.16 268.96a1.75 1.75 0 1 0 3.5 0a1.75 1.75 0 1 0 -3.5 0M415.68 267.48a1.75 1.75 0 1 0 3.5 0a1.75 1.75 0 1 0 -3.5 0M416.2 268.63a1.75 1.75 0 1 0 3.5 0a1.75 1.75 0 1 0 -3.5 0M416.72 268.97a1.75 1.75 0 1 0 3.5 0a1.75 1.75 0 1 0 -3.5 0M417.24 269.12a1.75 1.75 0 1 0 3.5 0a1.75 1.75 0 1 0 -3.5 0M417.76 269.68a1.75 1.75 0 1 0 3.5 0a1.75 1.75 0 1 0 -3.5 0M418.28 269.61a1.75 1.75 0 1 0 3.5 0a1.75 1.75 0 1 0 -3.5 0M418.8 269.47a1.75 1.75 0 1 0 3.5 0a1.75 1.75 0 1 0 -3.5 0M419.33 269.71a1.75 1.75 0 1 0 3.5 0a1.75 1.75 0 1 0 -3.5 0M419.85 270.18a1.75 1.75 0 1 0 3.5 0a1.75 1.75 0 1 0 -3.5 0M420.37 269.86a1.75 1.75 0 1 0 3.5 0a1.75 1.75 0 1 0 -3.5 0M420.89 270.33a1.75 1.75 0 1 0 3.5 0a1.75 1.75 0 1 0 -3.5 0M421.41 270.98a1.75 1.75 0 1 0 3.5 0a1.75 1.75 0 1 0 -3.5 0M421.93 271.64a1.75 1.75 0 1 0 3.5 0a1.75 1.75 0 1 0 -3.5 0M422.45 270.9a1.75 1.75 0 1 0 3.5 0a1.75 1.75 0 1 0 -3.5 0M422.97 271.11a1.75 1.75 0 1 0 3.5 0a1.75 1.75 0 1 0 -3.5 0M423.49 271.36a1.75 1.75 0 1 0 3.5 0a1.75 1.75 0 1 0 -3.5 0M424.01 272a1.75 1.75 0 1 0 3.5 0a1.75 1.75 0 1 0 -3.5 0M424.54 271.52a1.75 1.75 0 1 0 3.5 0a1.75 1.75 0 1 0 -3.5 0M425.06 272.31a1.75 1.75 0 1 0 3.5 0a1.75 1.75 0 1 0 -3.5 0M425.58 271.36a1.75 1.75 0 1 0 3.5 0a1.75 1.75 0 1 0 -3.5 0M426.1 271.83a1.75 1.75 0 1 0 3.5 0a1.75 1.75 0 1 0 -3.5 0M426.62 271.96a1.75 1.75 0 1 0 3.5 0a1.75 1.75 0 1 0 -3.5 0M427.14 272.53a1.75 1.75 0 1 0 3.5 0a1.75 1.75 0 1 0 -3.5 0M427.66 272.78a1.75 1.75 0 1 0 3.5 0a1.75 1.75 0 1 0 -3.5 0M428.18 271.79a1.75 1.75 0 1 0 3.5 0a1.75 1.75 0 1 0 -3.5 0M428.7 272.21a1.75 1.75 0 1 0 3.5 0a1.75 1.75 0 1 0 -3.5 0M429.22 272.95a1.75 1.75 0 1 0 3.5 0a1.75 1.75 0 1 0 -3.5 0M429.75 272.69a1.75 1.75 0 1 0 3.5 0a1.75 1.75 0 1 0 -3.5 0M430.27 272.52a1.75 1.75 0 1 0 3.5 0a1.75 1.75 0 1 0 -3.5 0M430.79 273.89a1.75 1.75 0 1 0 3.5 0a1.75 1.75 0 1 0 -3.5 0M431.31 273.89a1.75 1.75 0 1 0 3.5 0a1.75 1.75 0 1 0 -3.5 0M431.83 274.15a1.75 1.75 0 1 0 3.5 0a1.75 1.75 0 1 0 -3.5 0M432.35 273.97a1.75 1.75 0 1 0 3.5 0a1.75 1.75 0 1 0 -3.5 0M432.87 274.9a1.75 1.75 0 1 0 3.5 0a1.75 1.75 0 1 0 -3.5 0M433.39 274.55a1.75 1.75 0 1 0 3.5 0a1.75 1.75 0 1 0 -3.5 0M433.91 275.35a1.75 1.75 0 1 0 3.5 0a1.75 1.75 0 1 0 -3.5 0M434.43 274.59a1.75 1.75 0 1 0 3.5 0a1.75 1.75 0 1 0 -3.5 0M434.96 274.73a1.75 1.75 0 1 0 3.5 0a1.75 1.75 0 1 0 -3.5 0M435.48 275.28a1.75 1.75 0 1 0 3.5 0a1.75 1.75 0 1 0 -3.5 0M436 274.92a1.75 1.75 0 1 0 3.5 0a1.75 1.75 0 1 0 -3.5 0M436.52 275.58a1.75 1.75 0 1 0 3.5 0a1.75 1.75 0 1 0 -3.5 0M437.04 275.44a1.75 1.75 0 1 0 3.5 0a1.75 1.75 0 1 0 -3.5 0M437.56 274.96a1.75 1.75 0 1 0 3.5 0a1.75 1.75 0 1 0 -3.5 0M438.08 275.5a1.75 1.75 0 1 0 3.5 0a1.75 1.75 0 1 0 -3.5 0M438.6 275.43a1.75 1.75 0 1 0 3.5 0a1.75 1.75 0 1 0 -3.5 0M439.12 276.16a1.75 1.75 0 1 0 3.5 0a1.75 1.75 0 1 0 -3.5 0M439.64 275.61a1.75 1.75 0 1 0 3.5 0a1.75 1.75 0 1 0 -3.5 0M440.17 275.89a1.75 1.75 0 1 0 3.5 0a1.75 1.75 0 1 0 -3.5 0M440.69 276.84a1.75 1.75 0 1 0 3.5 0a1.75 1.75 0 1 0 -3.5 0M441.21 277.52a1.75 1.75 0 1 0 3.5 0a1.75 1.75 0 1 0 -3.5 0M441.73 277.61a1.75 1.75 0 1 0 3.5 0a1.75 1.75 0 1 0 -3.5 0M442.25 276.91a1.75 1.75 0 1 0 3.5 0a1.75 1.75 0 1 0 -3.5 0M442.77 277.2a1.75 1.75 0 1 0 3.5 0a1.75 1.75 0 1 0 -3.5 0M443.29 278.04a1.75 1.75 0 1 0 3.5 0a1.75 1.75 0 1 0 -3.5 0M443.81 277.5a1.75 1.75 0 1 0 3.5 0a1.75 1.75 0 1 0 -3.5 0M444.33 277.35a1.75 1.75 0 1 0 3.5 0a1.75 1.75 0 1 0 -3.5 0M444.86 278.12a1.75 1.75 0 1 0 3.5 0a1.75 1.75 0 1 0 -3.5 0M445.38 278.53a1.75 1.75 0 1 0 3.5 0a1.75 1.75 0 1 0 -3.5 0M445.9 278.18a1.75 1.75 0 1 0 3.5 0a1.75 1.75 0 1 0 -3.5 0M446.42 278.02a1.75 1.75 0 1 0 3.5 0a1.75 1.75 0 1 0 -3.5 0M446.94 278.31a1.75 1.75 0 1 0 3.5 0a1.75 1.75 0 1 0 -3.5 0M447.46 279.46a1.75 1.75 0 1 0 3.5 0a1.75 1.75 0 1 0 -3.5 0M447.98 278.9a1.75 1.75 0 1 0 3.5 0a1.75 1.75 0 1 0 -3.5 0M448.5 279.28a1.75 1.75 0 1 0 3.5 0a1.75 1.75 0 1 0 -3.5 0M449.02 279.51a1.75 1.75 0 1 0 3.5 0a1.75 1.75 0 1 0 -3.5 0M449.54 279.76a1.75 1.75 0 1 0 3.5 0a1.75 1.75 0 1 0 -3.5 0M450.07 279.37a1.75 1.75 0 1 0 3.5 0a1.75 1.75 0 1 0 -3.5 0M450.59 279.85a1.75 1.75 0 1 0 3.5 0a1.75 1.75 0 1 0 -3.5 0M451.11 279.29a1.75 1.75 0 1 0 3.5 0a1.75 1.75 0 1 0 -3.5 0M451.63 279.68a1.75 1.75 0 1 0 3.5 0a1.75 1.75 0 1 0 -3.5 0M452.15 279.5a1.75 1.75 0 1 0 3.5 0a1.75 1.75 0 1 0 -3.5 0M452.67 280.7a1.75 1.75 0 1 0 3.5 0a1.75 1.75 0 1 0 -3.5 0M453.19 280.31a1.75 1.75 0 1 0 3.5 0a1.75 1.75 0 1 0 -3.5 0M453.71 280.14a1.75 1.75 0 1 0 3.5 0a1.75 1.75 0 1 0 -3.5 0M454.23 280.51a1.75 1.75 0 1 0 3.5 0a1.75 1.75 0 1 0 -3.5 0M454.75 280.77a1.75 1.75 0 1 0 3.5 0a1.75 1.75 0 1 0 -3.5 0M455.28 281.43a1.75 1.75 0 1 0 3.5 0a1.75 1.75 0 1 0 -3.5 0M455.8 280.55a1.75 1.75 0 1 0 3.5 0a1.75 1.75 0 1 0 -3.5 0M456.32 281.06a1.75 1.75 0 1 0 3.5 0a1.75 1.75 0 1 0 -3.5 0M456.84 281.64a1.75 1.75 0 1 0 3.5 0a1.75 1.75 0 1 0 -3.5 0M457.36 283.33a1.75 1.75 0 1 0 3.5 0a1.75 1.75 0 1 0 -3.5 0M457.88 282.82a1.75 1.75 0 1 0 3.5 0a1.75 1.75 0 1 0 -3.5 0M458.4 282.56a1.75 1.75 0 1 0 3.5 0a1.75 1.75 0 1 0 -3.5 0M458.92 283.22a1.75 1.75 0 1 0 3.5 0a1.75 1.75 0 1 0 -3.5 0M459.44 284.14a1.75 1.75 0 1 0 3.5 0a1.75 1.75 0 1 0 -3.5 0M459.96 283.29a1.75 1.75 0 1 0 3.5 0a1.75 1.75 0 1 0 -3.5 0M460.49 283.53a1.75 1.75 0 1 0 3.5 0a1.75 1.75 0 1 0 -3.5 0M461.01 284.64a1.75 1.75 0 1 0 3.5 0a1.75 1.75 0 1 0 -3.5 0M461.53 284.64a1.75 1.75 0 1 0 3.5 0a1.75 1.75 0 1 0 -3.5 0M462.05 285.13a1.75 1.75 0 1 0 3.5 0a1.75 1.75 0 1 0 -3.5 0M462.57 284.96a1.75 1.75 0 1 0 3.5 0a1.75 1.75 0 1 0 -3.5 0M463.09 286.6a1.75 1.75 0 1 0 3.5 0a1.75 1.75 0 1 0 -3.5 0M463.61 286.93a1.75 1.75 0 1 0 3.5 0a1.75 1.75 0 1 0 -3.5 0M464.13 286.78a1.75 1.75 0 1 0 3.5 0a1.75 1.75 0 1 0 -3.5 0M464.65 287.25a1.75 1.75 0 1 0 3.5 0a1.75 1.75 0 1 0 -3.5 0M465.17 286.27a1.75 1.75 0 1 0 3.5 0a1.75 1.75 0 1 0 -3.5 0M465.7 287.94a1.75 1.75 0 1 0 3.5 0a1.75 1.75 0 1 0 -3.5 0M466.22 287.83a1.75 1.75 0 1 0 3.5 0a1.75 1.75 0 1 0 -3.5 0M466.74 288.41a1.75 1.75 0 1 0 3.5 0a1.75 1.75 0 1 0 -3.5 0M467.26 288.77a1.75 1.75 0 1 0 3.5 0a1.75 1.75 0 1 0 -3.5 0M467.78 288.46a1.75 1.75 0 1 0 3.5 0a1.75 1.75 0 1 0 -3.5 0M468.3 287.99a1.75 1.75 0 1 0 3.5 0a1.75 1.75 0 1 0 -3.5 0M468.82 289.23a1.75 1.75 0 1 0 3.5 0a1.75 1.75 0 1 0 -3.5 0M469.34 288.87a1.75 1.75 0 1 0 3.5 0a1.75 1.75 0 1 0 -3.5 0M469.86 289.29a1.75 1.75 0 1 0 3.5 0a1.75 1.75 0 1 0 -3.5 0M470.39 289.37a1.75 1.75 0 1 0 3.5 0a1.75 1.75 0 1 0 -3.5 0M470.91 289.71a1.75 1.75 0 1 0 3.5 0a1.75 1.75 0 1 0 -3.5 0M471.43 288.92a1.75 1.75 0 1 0 3.5 0a1.75 1.75 0 1 0 -3.5 0M471.95 290.92a1.75 1.75 0 1 0 3.5 0a1.75 1.75 0 1 0 -3.5 0M472.47 290.62a1.75 1.75 0 1 0 3.5 0a1.75 1.75 0 1 0 -3.5 0M472.99 291.24a1.75 1.75 0 1 0 3.5 0a1.75 1.75 0 1 0 -3.5 0M473.51 291.88a1.75 1.75 0 1 0 3.5 0a1.75 1.75 0 1 0 -3.5 0M474.03 291.07a1.75 1.75 0 1 0 3.5 0a1.75 1.75 0 1 0 -3.5 0M474.55 290.33a1.75 1.75 0 1 0 3.5 0a1.75 1.75 0 1 0 -3.5 0M475.07 291.01a1.75 1.75 0 1 0 3.5 0a1.75 1.75 0 1 0 -3.5 0M475.6 291.07a1.75 1.75 0 1 0 3.5 0a1.75 1.75 0 1 0 -3.5 0M476.12 291.67a1.75 1.75 0 1 0 3.5 0a1.75 1.75 0 1 0 -3.5 0M476.64 292.22a1.75 1.75 0 1 0 3.5 0a1.75 1.75 0 1 0 -3.5 0M477.16 291.39a1.75 1.75 0 1 0 3.5 0a1.75 1.75 0 1 0 -3.5 0M477.68 292.85a1.75 1.75 0 1 0 3.5 0a1.75 1.75 0 1 0 -3.5 0M478.2 292.13a1.75 1.75 0 1 0 3.5 0a1.75 1.75 0 1 0 -3.5 0M478.72 293.32a1.75 1.75 0 1 0 3.5 0a1.75 1.75 0 1 0 -3.5 0M479.24 293.34a1.75 1.75 0 1 0 3.5 0a1.75 1.75 0 1 0 -3.5 0M479.76 293.47a1.75 1.75 0 1 0 3.5 0a1.75 1.75 0 1 0 -3.5 0M480.28 293.83a1.75 1.75 0 1 0 3.5 0a1.75 1.75 0 1 0 -3.5 0M480.81 293.83a1.75 1.75 0 1 0 3.5 0a1.75 1.75 0 1 0 -3.5 0M481.33 294.04a1.75 1.75 0 1 0 3.5 0a1.75 1.75 0 1 0 -3.5 0M481.85 293.74a1.75 1.75 0 1 0 3.5 0a1.75 1.75 0 1 0 -3.5 0M482.37 294.88a1.75 1.75 0 1 0 3.5 0a1.75 1.75 0 1 0 -3.5 0M482.89 296.14a1.75 1.75 0 1 0 3.5 0a1.75 1.75 0 1 0 -3.5 0M483.41 296.48a1.75 1.75 0 1 0 3.5 0a1.75 1.75 0 1 0 -3.5 0M483.93 296.4a1.75 1.75 0 1 0 3.5 0a1.75 1.75 0 1 0 -3.5 0M484.45 296.31a1.75 1.75 0 1 0 3.5 0a1.75 1.75 0 1 0 -3.5 0M484.97 295.8a1.75 1.75 0 1 0 3.5 0a1.75 1.75 0 1 0 -3.5 0M485.49 297.1a1.75 1.75 0 1 0 3.5 0a1.75 1.75 0 1 0 -3.5 0M486.02 296.46a1.75 1.75 0 1 0 3.5 0a1.75 1.75 0 1 0 -3.5 0M486.54 296.58a1.75 1.75 0 1 0 3.5 0a1.75 1.75 0 1 0 -3.5 0M487.06 296.57a1.75 1.75 0 1 0 3.5 0a1.75 1.75 0 1 0 -3.5 0M487.58 296.89a1.75 1.75 0 1 0 3.5 0a1.75 1.75 0 1 0 -3.5 0M488.1 296.74a1.75 1.75 0 1 0 3.5 0a1.75 1.75 0 1 0 -3.5 0M488.62 297.08a1.75 1.75 0 1 0 3.5 0a1.75 1.75 0 1 0 -3.5 0M489.14 296.73a1.75 1.75 0 1 0 3.5 0a1.75 1.75 0 1 0 -3.5 0M489.66 297.3a1.75 1.75 0 1 0 3.5 0a1.75 1.75 0 1 0 -3.5 0M490.18 298.93a1.75 1.75 0 1 0 3.5 0a1.75 1.75 0 1 0 -3.5 0M490.7 297.86a1.75 1.75 0 1 0 3.5 0a1.75 1.75 0 1 0 -3.5 0M491.23 297.95a1.75 1.75 0 1 0 3.5 0a1.75 1.75 0 1 0 -3.5 0M491.75 298.51a1.75 1.75 0 1 0 3.5 0a1.75 1.75 0 1 0 -3.5 0M492.27 298.73a1.75 1.75 0 1 0 3.5 0a1.75 1.75 0 1 0 -3.5 0M492.79 297.85a1.75 1.75 0 1 0 3.5 0a1.75 1.75 0 1 0 -3.5 0M493.31 298.43a1.75 1.75 0 1 0 3.5 0a1.75 1.75 0 1 0 -3.5 0M493.83 299.13a1.75 1.75 0 1 0 3.5 0a1.75 1.75 0 1 0 -3.5 0M494.35 298.87a1.75 1.75 0 1 0 3.5 0a1.75 1.75 0 1 0 -3.5 0M494.87 298.9a1.75 1.75 0 1 0 3.5 0a1.75 1.75 0 1 0 -3.5 0M495.39 299.82a1.75 1.75 0 1 0 3.5 0a1.75 1.75 0 1 0 -3.5 0M495.92 298.77a1.75 1.75 0 1 0 3.5 0a1.75 1.75 0 1 0 -3.5 0M496.44 299.39a1.75 1.75 0 1 0 3.5 0a1.75 1.75 0 1 0 -3.5 0M496.96 299.3a1.75 1.75 0 1 0 3.5 0a1.75 1.75 0 1 0 -3.5 0M497.48 300.66a1.75 1.75 0 1 0 3.5 0a1.75 1.75 0 1 0 -3.5 0M498 299.06a1.75 1.75 0 1 0 3.5 0a1.75 1.75 0 1 0 -3.5 0M498.52 300.06a1.75 1.75 0 1 0 3.5 0a1.75 1.75 0 1 0 -3.5 0M499.04 300.44a1.75 1.75 0 1 0 3.5 0a1.75 1.75 0 1 0 -3.5 0M499.56 301.37a1.75 1.75 0 1 0 3.5 0a1.75 1.75 0 1 0 -3.5 0M500.08 301.59a1.75 1.75 0 1 0 3.5 0a1.75 1.75 0 1 0 -3.5 0M500.6 302.23a1.75 1.75 0 1 0 3.5 0a1.75 1.75 0 1 0 -3.5 0M501.13 300.75a1.75 1.75 0 1 0 3.5 0a1.75 1.75 0 1 0 -3.5 0M501.65 302.14a1.75 1.75 0 1 0 3.5 0a1.75 1.75 0 1 0 -3.5 0M502.17 301.62a1.75 1.75 0 1 0 3.5 0a1.75 1.75 0 1 0 -3.5 0M502.69 301.43a1.75 1.75 0 1 0 3.5 0a1.75 1.75 0 1 0 -3.5 0M503.21 302.07a1.75 1.75 0 1 0 3.5 0a1.75 1.75 0 1 0 -3.5 0M503.73 301.21a1.75 1.75 0 1 0 3.5 0a1.75 1.75 0 1 0 -3.5 0M504.25 300.5a1.75 1.75 0 1 0 3.5 0a1.75 1.75 0 1 0 -3.5 0M504.77 301.38a1.75 1.75 0 1 0 3.5 0a1.75 1.75 0 1 0 -3.5 0M505.29 300.68a1.75 1.75 0 1 0 3.5 0a1.75 1.75 0 1 0 -3.5 0M505.81 301.1a1.75 1.75 0 1 0 3.5 0a1.75 1.75 0 1 0 -3.5 0M506.34 301.63a1.75 1.75 0 1 0 3.5 0a1.75 1.75 0 1 0 -3.5 0M506.86 301.58a1.75 1.75 0 1 0 3.5 0a1.75 1.75 0 1 0 -3.5 0M507.38 302.3a1.75 1.75 0 1 0 3.5 0a1.75 1.75 0 1 0 -3.5 0M507.9 301.35a1.75 1.75 0 1 0 3.5 0a1.75 1.75 0 1 0 -3.5 0M508.42 300.68a1.75 1.75 0 1 0 3.5 0a1.75 1.75 0 1 0 -3.5 0M508.94 301.22a1.75 1.75 0 1 0 3.5 0a1.75 1.75 0 1 0 -3.5 0M509.46 301.27a1.75 1.75 0 1 0 3.5 0a1.75 1.75 0 1 0 -3.5 0M509.98 301.28a1.75 1.75 0 1 0 3.5 0a1.75 1.75 0 1 0 -3.5 0M510.5 302.41a1.75 1.75 0 1 0 3.5 0a1.75 1.75 0 1 0 -3.5 0M511.02 302.04a1.75 1.75 0 1 0 3.5 0a1.75 1.75 0 1 0 -3.5 0M511.55 301.56a1.75 1.75 0 1 0 3.5 0a1.75 1.75 0 1 0 -3.5 0M512.07 303.35a1.75 1.75 0 1 0 3.5 0a1.75 1.75 0 1 0 -3.5 0M512.59 303.19a1.75 1.75 0 1 0 3.5 0a1.75 1.75 0 1 0 -3.5 0M513.11 303.75a1.75 1.75 0 1 0 3.5 0a1.75 1.75 0 1 0 -3.5 0M513.63 303.91a1.75 1.75 0 1 0 3.5 0a1.75 1.75 0 1 0 -3.5 0M514.15 304.49a1.75 1.75 0 1 0 3.5 0a1.75 1.75 0 1 0 -3.5 0M514.67 304.41a1.75 1.75 0 1 0 3.5 0a1.75 1.75 0 1 0 -3.5 0M515.19 305.33a1.75 1.75 0 1 0 3.5 0a1.75 1.75 0 1 0 -3.5 0M515.71 305.08a1.75 1.75 0 1 0 3.5 0a1.75 1.75 0 1 0 -3.5 0M516.23 305.24a1.75 1.75 0 1 0 3.5 0a1.75 1.75 0 1 0 -3.5 0M516.76 305.4a1.75 1.75 0 1 0 3.5 0a1.75 1.75 0 1 0 -3.5 0M517.28 304.47a1.75 1.75 0 1 0 3.5 0a1.75 1.75 0 1 0 -3.5 0M517.8 305.3a1.75 1.75 0 1 0 3.5 0a1.75 1.75 0 1 0 -3.5 0M518.32 305.33a1.75 1.75 0 1 0 3.5 0a1.75 1.75 0 1 0 -3.5 0M518.84 305.66a1.75 1.75 0 1 0 3.5 0a1.75 1.75 0 1 0 -3.5 0M519.36 304.8a1.75 1.75 0 1 0 3.5 0a1.75 1.75 0 1 0 -3.5 0M519.88 306.51a1.75 1.75 0 1 0 3.5 0a1.75 1.75 0 1 0 -3.5 0M520.4 305.6a1.75 1.75 0 1 0 3.5 0a1.75 1.75 0 1 0 -3.5 0M520.92 304.78a1.75 1.75 0 1 0 3.5 0a1.75 1.75 0 1 0 -3.5 0M521.45 304.38a1.75 1.75 0 1 0 3.5 0a1.75 1.75 0 1 0 -3.5 0M521.97 305.05a1.75 1.75 0 1 0 3.5 0a1.75 1.75 0 1 0 -3.5 0M522.49 304.99a1.75 1.75 0 1 0 3.5 0a1.75 1.75 0 1 0 -3.5 0M523.01 304.43a1.75 1.75 0 1 0 3.5 0a1.75 1.75 0 1 0 -3.5 0M523.53 304.69a1.75 1.75 0 1 0 3.5 0a1.75 1.75 0 1 0 -3.5 0M524.05 304.04a1.75 1.75 0 1 0 3.5 0a1.75 1.75 0 1 0 -3.5 0M524.57 304.49a1.75 1.75 0 1 0 3.5 0a1.75 1.75 0 1 0 -3.5 0M525.09 303.52a1.75 1.75 0 1 0 3.5 0a1.75 1.75 0 1 0 -3.5 0M525.61 303.67a1.75 1.75 0 1 0 3.5 0a1.75 1.75 0 1 0 -3.5 0M526.13 304.01a1.75 1.75 0 1 0 3.5 0a1.75 1.75 0 1 0 -3.5 0M526.66 304.7a1.75 1.75 0 1 0 3.5 0a1.75 1.75 0 1 0 -3.5 0M527.18 302.44a1.75 1.75 0 1 0 3.5 0a1.75 1.75 0 1 0 -3.5 0M527.7 302.57a1.75 1.75 0 1 0 3.5 0a1.75 1.75 0 1 0 -3.5 0M528.22 302.19a1.75 1.75 0 1 0 3.5 0a1.75 1.75 0 1 0 -3.5 0M528.74 302.98a1.75 1.75 0 1 0 3.5 0a1.75 1.75 0 1 0 -3.5 0M529.26 301.74a1.75 1.75 0 1 0 3.5 0a1.75 1.75 0 1 0 -3.5 0M529.78 302.01a1.75 1.75 0 1 0 3.5 0a1.75 1.75 0 1 0 -3.5 0M530.3 302.17a1.75 1.75 0 1 0 3.5 0a1.75 1.75 0 1 0 -3.5 0M530.82 301.53a1.75 1.75 0 1 0 3.5 0a1.75 1.75 0 1 0 -3.5 0M531.34 301.47a1.75 1.75 0 1 0 3.5 0a1.75 1.75 0 1 0 -3.5 0M531.87 301.71a1.75 1.75 0 1 0 3.5 0a1.75 1.75 0 1 0 -3.5 0M532.39 300.76a1.75 1.75 0 1 0 3.5 0a1.75 1.75 0 1 0 -3.5 0M532.91 301.17a1.75 1.75 0 1 0 3.5 0a1.75 1.75 0 1 0 -3.5 0M533.43 301.85a1.75 1.75 0 1 0 3.5 0a1.75 1.75 0 1 0 -3.5 0M533.95 302.29a1.75 1.75 0 1 0 3.5 0a1.75 1.75 0 1 0 -3.5 0M534.47 302.23a1.75 1.75 0 1 0 3.5 0a1.75 1.75 0 1 0 -3.5 0M534.99 301.45a1.75 1.75 0 1 0 3.5 0a1.75 1.75 0 1 0 -3.5 0M535.51 302.36a1.75 1.75 0 1 0 3.5 0a1.75 1.75 0 1 0 -3.5 0M536.03 303.24a1.75 1.75 0 1 0 3.5 0a1.75 1.75 0 1 0 -3.5 0M536.55 303.24a1.75 1.75 0 1 0 3.5 0a1.75 1.75 0 1 0 -3.5 0M537.08 303a1.75 1.75 0 1 0 3.5 0a1.75 1.75 0 1 0 -3.5 0M537.6 302.67a1.75 1.75 0 1 0 3.5 0a1.75 1.75 0 1 0 -3.5 0M538.12 303.68a1.75 1.75 0 1 0 3.5 0a1.75 1.75 0 1 0 -3.5 0M538.64 303.1a1.75 1.75 0 1 0 3.5 0a1.75 1.75 0 1 0 -3.5 0M539.16 302.87a1.75 1.75 0 1 0 3.5 0a1.75 1.75 0 1 0 -3.5 0M539.68 303.18a1.75 1.75 0 1 0 3.5 0a1.75 1.75 0 1 0 -3.5 0M540.2 304.57a1.75 1.75 0 1 0 3.5 0a1.75 1.75 0 1 0 -3.5 0M540.72 303.9a1.75 1.75 0 1 0 3.5 0a1.75 1.75 0 1 0 -3.5 0M541.24 304.47a1.75 1.75 0 1 0 3.5 0a1.75 1.75 0 1 0 -3.5 0M541.77 303.51a1.75 1.75 0 1 0 3.5 0a1.75 1.75 0 1 0 -3.5 0M542.29 304.31a1.75 1.75 0 1 0 3.5 0a1.75 1.75 0 1 0 -3.5 0M542.81 303.35a1.75 1.75 0 1 0 3.5 0a1.75 1.75 0 1 0 -3.5 0M543.33 303.54a1.75 1.75 0 1 0 3.5 0a1.75 1.75 0 1 0 -3.5 0M543.85 305.01a1.75 1.75 0 1 0 3.5 0a1.75 1.75 0 1 0 -3.5 0M544.37 303.89a1.75 1.75 0 1 0 3.5 0a1.75 1.75 0 1 0 -3.5 0M544.89 303.01a1.75 1.75 0 1 0 3.5 0a1.75 1.75 0 1 0 -3.5 0M545.41 303.12a1.75 1.75 0 1 0 3.5 0a1.75 1.75 0 1 0 -3.5 0M545.93 303.21a1.75 1.75 0 1 0 3.5 0a1.75 1.75 0 1 0 -3.5 0M546.45 303.58a1.75 1.75 0 1 0 3.5 0a1.75 1.75 0 1 0 -3.5 0M546.98 302.44a1.75 1.75 0 1 0 3.5 0a1.75 1.75 0 1 0 -3.5 0M547.5 301.58a1.75 1.75 0 1 0 3.5 0a1.75 1.75 0 1 0 -3.5 0M548.02 302.36a1.75 1.75 0 1 0 3.5 0a1.75 1.75 0 1 0 -3.5 0M548.54 302.48a1.75 1.75 0 1 0 3.5 0a1.75 1.75 0 1 0 -3.5 0M549.06 302.52a1.75 1.75 0 1 0 3.5 0a1.75 1.75 0 1 0 -3.5 0M549.58 303.24a1.75 1.75 0 1 0 3.5 0a1.75 1.75 0 1 0 -3.5 0M550.1 302.67a1.75 1.75 0 1 0 3.5 0a1.75 1.75 0 1 0 -3.5 0M550.62 302.98a1.75 1.75 0 1 0 3.5 0a1.75 1.75 0 1 0 -3.5 0M551.14 301.85a1.75 1.75 0 1 0 3.5 0a1.75 1.75 0 1 0 -3.5 0M551.66 303a1.75 1.75 0 1 0 3.5 0a1.75 1.75 0 1 0 -3.5 0M552.19 303.69a1.75 1.75 0 1 0 3.5 0a1.75 1.75 0 1 0 -3.5 0M552.71 302.82a1.75 1.75 0 1 0 3.5 0a1.75 1.75 0 1 0 -3.5 0M553.23 302.4a1.75 1.75 0 1 0 3.5 0a1.75 1.75 0 1 0 -3.5 0M553.75 302.21a1.75 1.75 0 1 0 3.5 0a1.75 1.75 0 1 0 -3.5 0M554.27 303.03a1.75 1.75 0 1 0 3.5 0a1.75 1.75 0 1 0 -3.5 0M554.79 301.26a1.75 1.75 0 1 0 3.5 0a1.75 1.75 0 1 0 -3.5 0M555.31 301.62a1.75 1.75 0 1 0 3.5 0a1.75 1.75 0 1 0 -3.5 0M555.83 301.85a1.75 1.75 0 1 0 3.5 0a1.75 1.75 0 1 0 -3.5 0M556.35 301.95a1.75 1.75 0 1 0 3.5 0a1.75 1.75 0 1 0 -3.5 0M556.87 301.2a1.75 1.75 0 1 0 3.5 0a1.75 1.75 0 1 0 -3.5 0M557.4 301.64a1.75 1.75 0 1 0 3.5 0a1.75 1.75 0 1 0 -3.5 0M557.92 301.29a1.75 1.75 0 1 0 3.5 0a1.75 1.75 0 1 0 -3.5 0M558.44 301.54a1.75 1.75 0 1 0 3.5 0a1.75 1.75 0 1 0 -3.5 0M558.96 301.38a1.75 1.75 0 1 0 3.5 0a1.75 1.75 0 1 0 -3.5 0M559.48 300.74a1.75 1.75 0 1 0 3.5 0a1.75 1.75 0 1 0 -3.5 0M560 301.35a1.75 1.75 0 1 0 3.5 0a1.75 1.75 0 1 0 -3.5 0M560.52 301.79a1.75 1.75 0 1 0 3.5 0a1.75 1.75 0 1 0 -3.5 0M561.04 300.53a1.75 1.75 0 1 0 3.5 0a1.75 1.75 0 1 0 -3.5 0M561.56 300.79a1.75 1.75 0 1 0 3.5 0a1.75 1.75 0 1 0 -3.5 0M562.08 301.14a1.75 1.75 0 1 0 3.5 0a1.75 1.75 0 1 0 -3.5 0M562.61 299.87a1.75 1.75 0 1 0 3.5 0a1.75 1.75 0 1 0 -3.5 0M563.13 300.4a1.75 1.75 0 1 0 3.5 0a1.75 1.75 0 1 0 -3.5 0M563.65 299.42a1.75 1.75 0 1 0 3.5 0a1.75 1.75 0 1 0 -3.5 0M564.17 300.52a1.75 1.75 0 1 0 3.5 0a1.75 1.75 0 1 0 -3.5 0M564.69 301.01a1.75 1.75 0 1 0 3.5 0a1.75 1.75 0 1 0 -3.5 0M565.21 300.62a1.75 1.75 0 1 0 3.5 0a1.75 1.75 0 1 0 -3.5 0M565.73 299.07a1.75 1.75 0 1 0 3.5 0a1.75 1.75 0 1 0 -3.5 0M566.25 299.49a1.75 1.75 0 1 0 3.5 0a1.75 1.75 0 1 0 -3.5 0M566.77 298.99a1.75 1.75 0 1 0 3.5 0a1.75 1.75 0 1 0 -3.5 0M567.3 298.92a1.75 1.75 0 1 0 3.5 0a1.75 1.75 0 1 0 -3.5 0M567.82 299.79a1.75 1.75 0 1 0 3.5 0a1.75 1.75 0 1 0 -3.5 0M568.34 298.09a1.75 1.75 0 1 0 3.5 0a1.75 1.75 0 1 0 -3.5 0M568.86 299.64a1.75 1.75 0 1 0 3.5 0a1.75 1.75 0 1 0 -3.5 0M569.38 299.11a1.75 1.75 0 1 0 3.5 0a1.75 1.75 0 1 0 -3.5 0M569.9 300.16a1.75 1.75 0 1 0 3.5 0a1.75 1.75 0 1 0 -3.5 0M570.42 299.59a1.75 1.75 0 1 0 3.5 0a1.75 1.75 0 1 0 -3.5 0M570.94 299.25a1.75 1.75 0 1 0 3.5 0a1.75 1.75 0 1 0 -3.5 0M571.46 300.02a1.75 1.75 0 1 0 3.5 0a1.75 1.75 0 1 0 -3.5 0M571.98 300.48a1.75 1.75 0 1 0 3.5 0a1.75 1.75 0 1 0 -3.5 0M572.51 300.24a1.75 1.75 0 1 0 3.5 0a1.75 1.75 0 1 0 -3.5 0M573.03 300.7a1.75 1.75 0 1 0 3.5 0a1.75 1.75 0 1 0 -3.5 0M573.55 300.27a1.75 1.75 0 1 0 3.5 0a1.75 1.75 0 1 0 -3.5 0M574.07 299.47a1.75 1.75 0 1 0 3.5 0a1.75 1.75 0 1 0 -3.5 0M574.59 301.53a1.75 1.75 0 1 0 3.5 0a1.75 1.75 0 1 0 -3.5 0M575.11 301.59a1.75 1.75 0 1 0 3.5 0a1.75 1.75 0 1 0 -3.5 0M575.63 301.42a1.75 1.75 0 1 0 3.5 0a1.75 1.75 0 1 0 -3.5 0M576.15 301.53a1.75 1.75 0 1 0 3.5 0a1.75 1.75 0 1 0 -3.5 0M576.67 302.26a1.75 1.75 0 1 0 3.5 0a1.75 1.75 0 1 0 -3.5 0M577.19 301.45a1.75 1.75 0 1 0 3.5 0a1.75 1.75 0 1 0 -3.5 0M577.72 301.37a1.75 1.75 0 1 0 3.5 0a1.75 1.75 0 1 0 -3.5 0M578.24 301.72a1.75 1.75 0 1 0 3.5 0a1.75 1.75 0 1 0 -3.5 0M578.76 302.58a1.75 1.75 0 1 0 3.5 0a1.75 1.75 0 1 0 -3.5 0M579.28 300.96a1.75 1.75 0 1 0 3.5 0a1.75 1.75 0 1 0 -3.5 0M579.8 302.5a1.75 1.75 0 1 0 3.5 0a1.75 1.75 0 1 0 -3.5 0M580.32 301.29a1.75 1.75 0 1 0 3.5 0a1.75 1.75 0 1 0 -3.5 0M580.84 300.92a1.75 1.75 0 1 0 3.5 0a1.75 1.75 0 1 0 -3.5 0M581.36 302.31a1.75 1.75 0 1 0 3.5 0a1.75 1.75 0 1 0 -3.5 0M581.88 301.4a1.75 1.75 0 1 0 3.5 0a1.75 1.75 0 1 0 -3.5 0M582.4 300.61a1.75 1.75 0 1 0 3.5 0a1.75 1.75 0 1 0 -3.5 0M582.93 301.16a1.75 1.75 0 1 0 3.5 0a1.75 1.75 0 1 0 -3.5 0M583.45 301.95a1.75 1.75 0 1 0 3.5 0a1.75 1.75 0 1 0 -3.5 0M583.97 302.1a1.75 1.75 0 1 0 3.5 0a1.75 1.75 0 1 0 -3.5 0M584.49 301.09a1.75 1.75 0 1 0 3.5 0a1.75 1.75 0 1 0 -3.5 0M585.01 301.6a1.75 1.75 0 1 0 3.5 0a1.75 1.75 0 1 0 -3.5 0M585.53 301.79a1.75 1.75 0 1 0 3.5 0a1.75 1.75 0 1 0 -3.5 0M586.05 300.93a1.75 1.75 0 1 0 3.5 0a1.75 1.75 0 1 0 -3.5 0M586.57 301.55a1.75 1.75 0 1 0 3.5 0a1.75 1.75 0 1 0 -3.5 0M587.09 301.31a1.75 1.75 0 1 0 3.5 0a1.75 1.75 0 1 0 -3.5 0M587.61 301a1.75 1.75 0 1 0 3.5 0a1.75 1.75 0 1 0 -3.5 0M588.14 301.04a1.75 1.75 0 1 0 3.5 0a1.75 1.75 0 1 0 -3.5 0M588.66 301.42a1.75 1.75 0 1 0 3.5 0a1.75 1.75 0 1 0 -3.5 0M589.18 301.44a1.75 1.75 0 1 0 3.5 0a1.75 1.75 0 1 0 -3.5 0M589.7 301.11a1.75 1.75 0 1 0 3.5 0a1.75 1.75 0 1 0 -3.5 0M590.22 301.26a1.75 1.75 0 1 0 3.5 0a1.75 1.75 0 1 0 -3.5 0M590.74 302.29a1.75 1.75 0 1 0 3.5 0a1.75 1.75 0 1 0 -3.5 0M591.26 301.79a1.75 1.75 0 1 0 3.5 0a1.75 1.75 0 1 0 -3.5 0M591.78 302.29a1.75 1.75 0 1 0 3.5 0a1.75 1.75 0 1 0 -3.5 0M592.3 302.57a1.75 1.75 0 1 0 3.5 0a1.75 1.75 0 1 0 -3.5 0M592.83 302.27a1.75 1.75 0 1 0 3.5 0a1.75 1.75 0 1 0 -3.5 0M593.35 303.42a1.75 1.75 0 1 0 3.5 0a1.75 1.75 0 1 0 -3.5 0M593.87 301.55a1.75 1.75 0 1 0 3.5 0a1.75 1.75 0 1 0 -3.5 0M594.39 302.64a1.75 1.75 0 1 0 3.5 0a1.75 1.75 0 1 0 -3.5 0M594.91 301.97a1.75 1.75 0 1 0 3.5 0a1.75 1.75 0 1 0 -3.5 0M595.43 303.35a1.75 1.75 0 1 0 3.5 0a1.75 1.75 0 1 0 -3.5 0M595.95 303.23a1.75 1.75 0 1 0 3.5 0a1.75 1.75 0 1 0 -3.5 0M596.47 300.86a1.75 1.75 0 1 0 3.5 0a1.75 1.75 0 1 0 -3.5 0M596.99 301.4a1.75 1.75 0 1 0 3.5 0a1.75 1.75 0 1 0 -3.5 0M597.51 302.34a1.75 1.75 0 1 0 3.5 0a1.75 1.75 0 1 0 -3.5 0M598.04 302.33a1.75 1.75 0 1 0 3.5 0a1.75 1.75 0 1 0 -3.5 0M598.56 302.22a1.75 1.75 0 1 0 3.5 0a1.75 1.75 0 1 0 -3.5 0M599.08 301.67a1.75 1.75 0 1 0 3.5 0a1.75 1.75 0 1 0 -3.5 0M599.6 302.01a1.75 1.75 0 1 0 3.5 0a1.75 1.75 0 1 0 -3.5 0M600.12 302.19a1.75 1.75 0 1 0 3.5 0a1.75 1.75 0 1 0 -3.5 0M600.64 301.82a1.75 1.75 0 1 0 3.5 0a1.75 1.75 0 1 0 -3.5 0M601.16 302.66a1.75 1.75 0 1 0 3.5 0a1.75 1.75 0 1 0 -3.5 0M601.68 300.72a1.75 1.75 0 1 0 3.5 0a1.75 1.75 0 1 0 -3.5 0M602.2 302.74a1.75 1.75 0 1 0 3.5 0a1.75 1.75 0 1 0 -3.5 0M602.72 301.85a1.75 1.75 0 1 0 3.5 0a1.75 1.75 0 1 0 -3.5 0M603.25 303.28a1.75 1.75 0 1 0 3.5 0a1.75 1.75 0 1 0 -3.5 0M603.77 302.66a1.75 1.75 0 1 0 3.5 0a1.75 1.75 0 1 0 -3.5 0M604.29 302.36a1.75 1.75 0 1 0 3.5 0a1.75 1.75 0 1 0 -3.5 0M604.81 303.28a1.75 1.75 0 1 0 3.5 0a1.75 1.75 0 1 0 -3.5 0M605.33 302.56a1.75 1.75 0 1 0 3.5 0a1.75 1.75 0 1 0 -3.5 0M605.85 302.65a1.75 1.75 0 1 0 3.5 0a1.75 1.75 0 1 0 -3.5 0M606.37 302.31a1.75 1.75 0 1 0 3.5 0a1.75 1.75 0 1 0 -3.5 0M606.89 303.38a1.75 1.75 0 1 0 3.5 0a1.75 1.75 0 1 0 -3.5 0M607.41 303.78a1.75 1.75 0 1 0 3.5 0a1.75 1.75 0 1 0 -3.5 0M607.93 304.17a1.75 1.75 0 1 0 3.5 0a1.75 1.75 0 1 0 -3.5 0M608.46 303.44a1.75 1.75 0 1 0 3.5 0a1.75 1.75 0 1 0 -3.5 0M608.98 304.21a1.75 1.75 0 1 0 3.5 0a1.75 1.75 0 1 0 -3.5 0M609.5 303.51a1.75 1.75 0 1 0 3.5 0a1.75 1.75 0 1 0 -3.5 0M610.02 303.39a1.75 1.75 0 1 0 3.5 0a1.75 1.75 0 1 0 -3.5 0M610.54 303.74a1.75 1.75 0 1 0 3.5 0a1.75 1.75 0 1 0 -3.5 0M611.06 303.96a1.75 1.75 0 1 0 3.5 0a1.75 1.75 0 1 0 -3.5 0M611.58 302.95a1.75 1.75 0 1 0 3.5 0a1.75 1.75 0 1 0 -3.5 0M612.1 302.88a1.75 1.75 0 1 0 3.5 0a1.75 1.75 0 1 0 -3.5 0M612.62 302.78a1.75 1.75 0 1 0 3.5 0a1.75 1.75 0 1 0 -3.5 0M613.14 302.77a1.75 1.75 0 1 0 3.5 0a1.75 1.75 0 1 0 -3.5 0M613.67 301.96a1.75 1.75 0 1 0 3.5 0a1.75 1.75 0 1 0 -3.5 0M614.19 303.04a1.75 1.75 0 1 0 3.5 0a1.75 1.75 0 1 0 -3.5 0M614.71 301.95a1.75 1.75 0 1 0 3.5 0a1.75 1.75 0 1 0 -3.5 0M615.23 302.38a1.75 1.75 0 1 0 3.5 0a1.75 1.75 0 1 0 -3.5 0M615.75 301.44a1.75 1.75 0 1 0 3.5 0a1.75 1.75 0 1 0 -3.5 0" fill="none" stroke="#333333" stroke-width="1.2"/>
<polyline fill="none" stroke="#e26261" stroke-width="2.2" stroke-linejoin="round" points="97,65 99.01,65.44 101.02,65.82 103.03,66.16 105.04,66.51 107.05,66.86 109.06,67.26 111.07,67.72 113.08,68.27 115.09,68.93 117.1,69.72 119.11,70.61 121.12,71.59 123.13,72.63 125.14,73.71 127.14,74.81 129.15,75.9 131.16,76.99 133.17,78.08 135.18,79.2 137.19,80.34 139.2,81.52 141.21,82.75 143.22,84.03 145.23,85.36 147.24,86.75 149.25,88.18 151.26,89.66 153.27,91.19 155.28,92.77 157.29,94.39 159.3,96.06 161.31,97.77 163.32,99.53 165.33,101.33 167.34,103.19 169.35,105.1 171.36,107.06 173.37,109.07 175.38,111.15 177.39,113.28 179.4,115.47 181.41,117.71 183.42,120 185.42,122.32 187.43,124.66 189.44,127.02 191.45,129.39 193.46,131.75 195.47,134.1 197.48,136.42 199.49,138.73 201.5,141.04 203.51,143.35 205.52,145.69 207.53,148.06 209.54,150.48 211.55,152.96 213.56,155.51 215.57,158.12 217.58,160.77 219.59,163.43 221.6,166.09 223.61,168.73 225.62,171.34 227.63,173.94 229.64,176.52 231.65,179.12 233.66,181.73 235.67,184.36 237.68,187.02 239.69,189.68 241.69,192.32 243.7,194.93 245.71,197.49 247.72,199.99 249.73,202.43 251.74,204.83 253.75,207.19 255.76,209.53 257.77,211.84 259.78,214.15 261.79,216.44 263.8,218.69 265.81,220.91 267.82,223.07 269.83,225.17 271.84,227.22 273.85,229.22 275.86,231.21 277.87,233.18 279.88,235.17 281.89,237.17 283.9,239.15 285.91,241.09 287.92,242.98 289.93,244.81 291.94,246.58 293.95,248.29 295.96,249.94 297.97,251.53 299.97,253.06 301.98,254.53 303.99,255.94 306,257.29 308.01,258.58 310.02,259.79 312.03,260.94 314.04,262.01 316.05,263 318.06,263.92 320.07,264.76 322.08,265.53 324.09,266.22 326.1,266.84 328.11,267.4 330.12,267.89 332.13,268.33 334.14,268.7 336.15,269.02 338.16,269.29 340.17,269.52 342.18,269.7 344.19,269.84 346.2,269.94 348.21,270 350.22,270.04 352.23,270.04 354.24,270.02 356.25,269.96 358.25,269.88 360.26,269.76 362.27,269.62 364.28,269.45 366.29,269.26 368.3,269.05 370.31,268.84 372.32,268.65 374.33,268.49 376.34,268.36 378.35,268.28 380.36,268.24 382.37,268.24 384.38,268.28 386.39,268.36 388.4,268.48 390.41,268.63 392.42,268.81 394.43,269.02 396.44,269.25 398.45,269.52 400.46,269.81 402.47,270.12 404.48,270.46 406.49,270.82 408.5,271.2 410.51,271.61 412.52,272.03 414.53,272.47 416.53,272.93 418.54,273.41 420.55,273.9 422.56,274.42 424.57,274.95 426.58,275.49 428.59,276.04 430.6,276.61 432.61,277.18 434.62,277.75 436.63,278.33 438.64,278.9 440.65,279.48 442.66,280.05 444.67,280.61 446.68,281.16 448.69,281.7 450.7,282.23 452.71,282.74 454.72,283.24 456.73,283.72 458.74,284.19 460.75,284.65 462.76,285.12 464.77,285.6 466.78,286.09 468.79,286.59 470.8,287.1 472.81,287.61 474.81,288.12 476.82,288.63 478.83,289.13 480.84,289.61 482.85,290.07 484.86,290.51 486.87,290.93 488.88,291.33 490.89,291.72 492.9,292.09 494.91,292.46 496.92,292.8 498.93,293.14 500.94,293.47 502.95,293.79 504.96,294.1 506.97,294.4 508.98,294.7 510.99,294.99 513,295.27 515.01,295.55 517.02,295.82 519.03,296.09 521.04,296.35 523.05,296.6 525.06,296.85 527.07,297.08 529.08,297.31 531.08,297.52 533.09,297.72 535.1,297.92 537.11,298.09 539.12,298.26 541.13,298.42 543.14,298.56 545.15,298.69 547.16,298.81 549.17,298.91 551.18,299 553.19,299.09 555.2,299.16 557.21,299.23 559.22,299.29 561.23,299.35 563.24,299.4 565.25,299.44 567.26,299.48 569.27,299.52 571.28,299.55 573.29,299.58 575.3,299.61 577.31,299.63 579.32,299.65 581.33,299.67 583.34,299.68 585.35,299.69 587.36,299.7 589.36,299.71 591.37,299.71 593.38,299.72 595.39,299.72 597.4,299.72 599.41,299.72 601.42,299.72 603.43,299.72 605.44,299.72 607.45,299.71 609.46,299.71 611.47,299.71 613.48,299.7 615.49,299.7 617.5,299.7"/>
<path d="M97 384.5H617.5" stroke="#333333" stroke-width="1" fill="none"/>
<polyline fill="none" stroke="#e26261" stroke-width="2.4" stroke-linejoin="miter" stroke-miterlimit="3" points="96.5,388 97.25,386.55 98,386.9 98.75,383.5 99.58,385.63 100.42,383.62 101.25,384.75 102.08,380 102.92,375.34 103.75,371.75 105,383.5 106.25,373.5 107.12,384.55 108,394 109,389.92 110,386 110.81,384.86 111.62,379.04 112.44,381.63 113.25,377.25 114.08,380.86 114.92,385.7 115.75,388.5 116.62,385.18 117.5,382.25 118.75,388.5 119.69,385.34 120.62,383.9 121.56,381.78 122.5,378 123.44,381.59 124.38,385.54 125.31,390.58 126.25,393.5 127.12,388.53 128,386 129,385.75 130,389.75 131,388.43 132,386 132.88,387.56 133.75,391 134.62,383.94 135.5,382.25 136.33,385.69 137.17,390.76 138,396 139,396.58 140,400.5 141,394.29 142,392.25 142.83,393.55 143.67,396.01 144.5,396 145.33,393.59 146.17,390.79 147,389.75 147.83,392.79 148.67,395.75 149.5,397.25 150.33,398.5 151.17,401.35 152,402.25 152.88,396.84 153.75,388.5 154.58,390.71 155.42,392.36 156.25,396 157.08,398.99 157.92,401.35 158.75,403.5 159.62,400.04 160.5,393.5 161.31,393.58 162.12,396.32 162.94,397.95 163.75,401 164.69,400.76 165.62,405.55 166.56,408.3 167.5,409.75 168.33,406.63 169.17,407.52 170,403.5 170.75,407.03 171.5,409.13 172.25,411.19 173,413 173.83,410.5 174.67,403.47 175.5,401.5 176.33,400.53 177.17,398.68 178,396 178.81,393.84 179.62,397.11 180.44,396.59 181.25,397.25 182.08,395.43 182.92,390.8 183.75,388.5 184.58,390.14 185.42,392.31 186.25,393.5 187.06,389.9 187.88,389.59 188.69,386.23 189.5,384 190.25,385.81 191,385.52 191.75,388.9 192.5,388.5 193.33,388.51 194.17,386.58 195,386 195.75,389.51 196.5,393.01 197.25,396.38 198,396.5 198.81,391.36 199.62,391.86 200.44,388.34 201.25,384.75 202,386.49 202.75,387.09 203.5,392.14 204.25,392.25 205.06,388.61 205.88,389.29 206.69,388.45 207.5,384.75 208.33,379.76 209.17,378.83 210,376.5 210.83,377 211.67,381.51 212.5,383.5 213.33,387.95 214.17,391 215,390.5 216,383.26 217,381 217.75,379.26 218.5,380.11 219.25,380.4 220,377.25 220.75,375.78 221.5,372.08 222.25,371.48 223,369 223.83,370.48 224.67,371.71 225.5,373.5 226.33,374.97 227.17,379.04 228,381 229,377.68 230,373.5 231,371.49 232,369.75 232.88,373.19 233.75,377.25 234.62,373.58 235.5,373.5 236.5,371.57 237.5,371 238.5,370.19 239.5,366 240.25,364.07 241,360.65 241.75,361 242.75,366.62 243.75,368.5 244.58,372.16 245.42,377.28 246.25,377.25 247.12,373.59 248,369.75 249,372.23 250,376 250.75,371.47 251.5,372.85 252.25,372.1 253,366 254,371.1 255,378.5 255.83,373.01 256.67,370.17 257.5,364.75 258.5,367.96 259.5,373.5 260.38,375 261.25,377.25 262.08,373.84 262.92,371.69 263.75,368.5 264.5,369.91 265.25,368.28 266,369.41 266.75,368 267.75,371.41 268.75,376 269.62,378.96 270.5,381 271.5,374.26 272.5,373.5 273.5,373.35 274.5,377.25 275.38,373.36 276.25,367.25 277.08,365.59 277.92,366.4 278.75,364.75 279.58,367.18 280.42,369.93 281.25,369.75 282.12,370.26 283,368.5 284,375.55 285,379.75 285.83,375.01 286.67,369.61 287.5,366 288.5,369.98 289.5,376 290.38,370.94 291.25,367.25 292.25,364.79 293.25,365.5 294.12,369.36 295,374.75 295.83,375.04 296.67,375.94 297.5,376 298.33,376.78 299.17,375.81 300,379.75 301,382.15 302,384.75 302.75,382.57 303.5,381.27 304.25,377.25 305,383.06 305.75,387.25 306.5,387.6 307.25,388.74 308,391 309,390.06 310,383.5 311,387.68 312,389.75 312.88,390.44 313.75,386 314.58,392.31 315.42,391.52 316.25,396 317.08,396.96 317.92,397.47 318.75,397.25 319.58,397.2 320.42,396.34 321.25,394.75 322.08,398.78 322.92,402.49 323.75,406 324.58,401.4 325.42,400.77 326.25,398.5 327.08,398.45 327.92,400.68 328.75,401.5 329.58,402.76 330.42,406.2 331.25,407.25 332.12,406.52 333,403.5 334,399.56 335,394.75 335.88,403.32 336.75,411 337.56,410.51 338.38,409.12 339.19,408.89 340,408.5 340.83,408.47 341.67,410.38 342.5,410.5 343.5,407.02 344.5,403.5 345.38,407.44 346.25,409.75 347.12,405.39 348,404.75 349,407.87 350,408.5 351,404.93 352,403.5 352.88,398.1 353.75,394.75 354.58,395.72 355.42,396.46 356.25,398.5 357.12,396.66 358,394 359,391.07 360,389.75 360.88,390.75 361.75,394.75 362.75,390.44 363.75,388.5 364.58,390.75 365.42,389.4 366.25,389.75 367.08,387.28 367.92,388.1 368.75,387.25 369.58,384.24 370.42,388.09 371.25,384.75 372.08,381.37 372.92,382.92 373.75,381 374.58,378.84 375.42,373.14 376.25,372.25 377.08,373.09 377.92,374.48 378.75,373.5 380,367.25 380.83,367.07 381.67,365.95 382.5,364.75 383.33,368.16 384.17,369.14 385,371 386,368.35 387,364.75 387.75,363.01 388.5,362.51 389.25,358.74 390,358.5 390.83,358.36 391.67,355.29 392.5,354.75 393.5,356.97 394.5,362.25 395.38,362.14 396.25,361 397.12,367.75 398,369.75 399,366.1 400,359.75 400.75,356.22 401.5,355.1 402.25,350.68 403,348.5 404,350.83 405,353.5 406,352.38 407,351 407.83,349.01 408.67,353.77 409.5,354.75 410.33,352.06 411.17,351.27 412,351 412.83,351.02 413.67,353.04 414.5,357.25 415.33,355.1 416.17,356.74 417,354.75 417.83,360 418.67,360.55 419.5,363.5 420.25,360.86 421,354.8 421.75,351 422.75,352.7 423.75,359.75 425,352.25 425.83,359.96 426.67,367.87 427.5,374.75 428.5,367.27 429.5,361 430.38,365.17 431.25,368.5 432.12,365.55 433,361 434,364.79 435,371 435.83,365.6 436.67,364.02 437.5,361 438.33,361.54 439.17,362.17 440,363.5 440.83,364.47 441.67,365.08 442.5,362.25 443.5,364.17 444.5,367.25 445.38,365.73 446.25,362.25 447.12,370.44 448,376 448.75,382 449.5,386 450.25,387.47 451,385.46 451.75,387.04 452.5,386 453.38,385.08 454.25,378.5 455.17,378.79 456.08,375.97 457,376 457.83,379.35 458.67,382.77 459.5,383.5 460.38,382.77 461.25,381 462.08,381.88 462.92,386.49 463.75,386 464.62,383.63 465.5,384.75 466.33,386.29 467.17,386.39 468,387.25 468.83,387.66 469.67,393.12 470.5,393.5 471.33,395.24 472.17,394.37 473,397.25 473.83,396.01 474.67,392.48 475.5,391 476.33,390.84 477.17,395.04 478,398.5 478.83,401.37 479.67,404.39 480.5,406 481.33,404.98 482.17,403.56 483,402.25 483.83,404.57 484.67,405.29 485.5,407.25 486.33,408.06 487.17,405.79 488,404.75 488.75,403.91 489.5,402.25 490.33,406.76 491.17,408.27 492,413.5 492.83,410.42 493.67,411.47 494.5,407.25 495.33,406.47 496.17,404.35 497,403.5 497.83,402.73 498.67,400.33 499.5,399.75 500.33,398.22 501.17,394.98 502,394 502.75,399.22 503.5,401.46 504.25,408.5 505.17,413.28 506.08,413.62 507,417.25 507.75,409.2 508.5,405.27 509.25,399.75 510.25,407.36 511.25,416 512.08,416.63 512.92,415.23 513.75,417.25 514.62,415.31 515.5,412.25 516.5,421.7 517.5,421 518.5,415.46 519.5,413.5 520.33,413.14 521.17,411.4 522,411 522.83,412.1 523.67,410.13 524.5,413.5 525.33,411.06 526.17,412.48 527,411 527.83,411.95 528.67,415.29 529.5,414 530.38,410.89 531.25,409.75 532.12,413.37 533,416.5 534,415.33 535,406 535.83,402.84 536.67,400.57 537.5,399.75 538.33,400.95 539.17,402.19 540,403.5 540.83,407.02 541.67,408.35 542.5,410.5 543.5,407.82 544.5,407.25 545.38,404.67 546.25,401.5 547.12,406.19 548,403.5 549,401.53 550,396 550.88,395.23 551.75,402.25 552.75,399.55 553.75,397.25 555,404 555.83,400.11 556.67,399.54 557.5,396 558.33,395.34 559.17,397.87 560,394.75 560.83,395.22 561.67,394.33 562.5,392.25 563.5,393.76 564.5,394.75 565.38,390.94 566.25,387.25 567.12,390.23 568,392.25 569,390.94 570,386 570.75,385.37 571.5,382.76 572.25,383.66 573,380.5 574,384.14 575,387.25 575.83,387.97 576.67,387.81 577.5,389.75 578.5,391.08 579.5,394 580.33,393.61 581.17,391.09 582,395.5 582.75,394.24 583.5,390.92 584.25,387.14 585,384.75 585.83,388.13 586.67,389.2 587.5,390.5 588.5,393.15 589.5,394.75 590.38,389.41 591.25,391 592.08,392.34 592.92,395.08 593.75,396 594.62,396.38 595.5,392.25 596.31,396.26 597.12,397.12 597.94,394.94 598.75,398 599.58,393.59 600.42,396.13 601.25,394 602.08,394.71 602.92,396.68 603.75,396 604.75,393.07 605.75,390.5 606.5,390.31 607.25,387.4 608,389 609,393.75 610,397.25 610.83,397.04 611.67,398.57 612.5,398.5 613.33,397.06 614.17,394.17 615,392.25 616,392.32 617,391.5"/>
<path d="M571.5 36.8l1.7 1.7l-1.7 1.7l-1.7 -1.7z" fill="none" stroke="#333333" stroke-width="1.2"/>
<path d="M546 57H596" stroke="#e26261" stroke-width="2" fill="none"/>
<text x="533.4" y="42.6" font-size="16" text-anchor="end" fill="#000">Experimental</text>
<text x="533.4" y="61.5" font-size="16" text-anchor="end" fill="#000">FoXS χ<tspan dy="-5.6" font-size="12.4" dx="-1.9"> 2</tspan><tspan dy="5.6" dx="0.8"> = 20.4</tspan></text>
<text x="78.1" y="445.7" font-size="16" text-anchor="middle" fill="#808080">0</text>
<text x="131.5" y="445.7" font-size="16" text-anchor="middle" fill="#808080">0.05</text>
<text x="186.7" y="445.7" font-size="16" text-anchor="middle" fill="#808080">0.1</text>
<text x="239.5" y="445.7" font-size="16" text-anchor="middle" fill="#808080">0.15</text>
<text x="294.7" y="445.7" font-size="16" text-anchor="middle" fill="#808080">0.2</text>
<text x="347.5" y="445.7" font-size="16" text-anchor="middle" fill="#808080">0.25</text>
<text x="402.7" y="445.7" font-size="16" text-anchor="middle" fill="#808080">0.3</text>
<text x="455.5" y="445.7" font-size="16" text-anchor="middle" fill="#808080">0.35</text>
<text x="510.7" y="445.7" font-size="16" text-anchor="middle" fill="#808080">0.4</text>
<text x="563.5" y="445.7" font-size="16" text-anchor="middle" fill="#808080">0.45</text>
<text x="618.7" y="445.7" font-size="16" text-anchor="middle" fill="#808080">0.5</text>
<text x="36" y="29" font-size="16" fill="#808080">10<tspan dy="-6" dx="1" font-size="12.4">3</tspan></text>
<text x="36" y="133" font-size="16" fill="#808080">10<tspan dy="-6" dx="1" font-size="12.4">2</tspan></text>
<text x="36" y="236" font-size="16" fill="#808080">10<tspan dy="-6" dx="1" font-size="12.4">1</tspan></text>
<text x="36" y="340" font-size="16" fill="#808080">10<tspan dy="-6" dx="1" font-size="12.4">0</tspan></text>
<text transform="translate(26.5 181.2) rotate(-90)" font-size="16" text-anchor="middle" fill="#000">I(q) log-scale</text>
<text transform="translate(48.5 379.8) rotate(-90)" font-size="16" text-anchor="middle" fill="#000">Residual</text>
<text x="319.3" y="473.5" font-size="16" fill="#000">q [Å<tspan dy="-5.8" font-size="12.4" dx="2.5">-1</tspan><tspan dy="5.8" dx="-2.5"> ]</tspan></text>
</svg></body></html>
